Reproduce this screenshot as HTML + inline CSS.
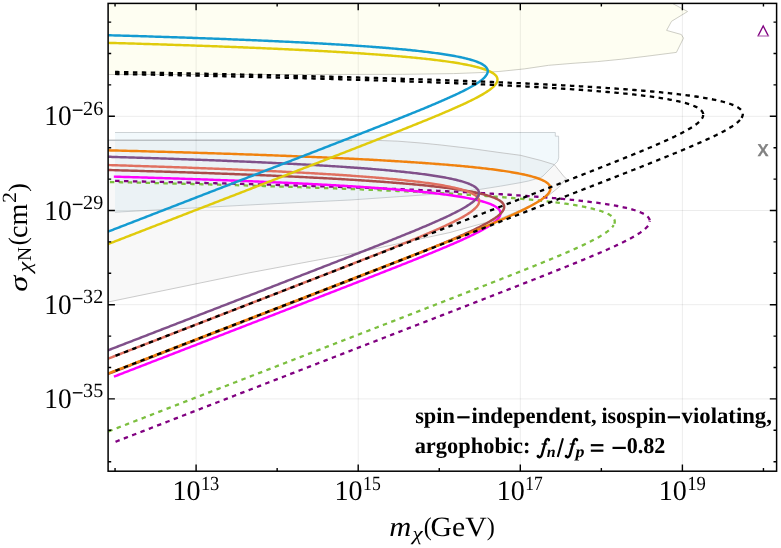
<!DOCTYPE html>
<html><head><meta charset="utf-8"><title>chart</title>
<style>html,body{margin:0;padding:0;background:#fff}svg{display:block}</style>
</head><body>
<svg width="781" height="548" viewBox="0 0 781 548" text-rendering="geometricPrecision" style="will-change:transform">
<rect width="781" height="548" fill="#fff"/>
<defs><clipPath id="c"><rect x="108.10" y="3.40" width="668.50" height="467.80"/></clipPath></defs>
<g clip-path="url(#c)">
<path d="M108.1,3.4 L672.3,3.4 L687.6,11.5 L671.5,21.3 L666.6,30.4 L681.3,34.5 L683.5,38.1 L676.4,52.4 L646.0,56.3 L621.7,59.2 L597.3,61.6 L573.0,63.3 L548.7,65.3 L524.3,68.9 L500.0,71.4 L480.0,72.6 L453.6,73.6 L402.4,74.3 L300.0,74.5 L108.1,74.5 Z" fill="#fefef2" stroke="#c2c2b8" stroke-width="0.8"/>
<path d="M115.0,132.5 L555.3,132.5 L555.3,136.2 L558.6,136.2 L558.7,157.9 L557.5,161.5 L554.3,164.6 L543.0,176.0 L540.7,177.6 L528.4,181.0 L520.7,182.6 L500.7,186.1 L479.2,189.5 L430.0,194.5 L350.0,200.0 L260.0,204.4 L115.0,212.2 Z" fill="#f2f9fc"/>
<path d="M115.00,132.50 L555.30,132.50 L555.30,136.20 L558.60,136.20 L558.70,157.90 L557.50,161.50 L554.30,164.60 L543.00,176.00 L540.70,177.60 L528.40,181.00 L520.70,182.60 L500.70,186.10 L479.20,189.50 L430.00,194.50 L350.00,200.00 L260.00,204.40 L115.00,212.20" fill="none" stroke="#c2c8cb" stroke-width="0.8"/>
<path d="M108.1,140.2 L352.0,140.2 L375.0,140.3 L398.0,141.2 L421.0,143.0 L440.0,144.9 L470.0,148.4 L500.0,152.6 L520.5,155.3 L541.0,160.5 L554.3,164.6 L563.5,176.0 L566.0,178.5 L558.4,187.6 L546.8,196.9 L520.7,210.0 L500.7,218.4 L450.0,232.5 L357.6,252.5 L250.0,272.7 L108.1,302.0 Z" fill="rgba(100,100,100,0.045)" stroke="#b4b4b4" stroke-width="0.7"/>
<path d="M108.10,140.20 L352.00,140.20" fill="none" stroke="#b2b8bc" stroke-width="1.1"/>
<path d="M196.10,3.40 V471.20 M358.20,3.40 V471.20 M520.30,3.40 V471.20 M682.40,3.40 V471.20 M108.10,116.30 H776.60 M108.10,210.50 H776.60 M108.10,304.70 H776.60 M108.10,398.90 H776.60" stroke="rgba(0,0,0,0.075)" stroke-width="1" fill="none"/>
<path d="M108.10,181.96 L109.95,182.00 L111.80,182.04 L113.65,182.08 L115.48,182.12 L117.31,182.17 L119.14,182.21 L120.96,182.25 L122.77,182.29 L124.58,182.33 L126.38,182.37 L128.18,182.42 L129.97,182.46 L131.75,182.50 L133.53,182.54 L135.30,182.58 L137.07,182.62 L138.83,182.66 L140.59,182.71 L142.34,182.75 L144.08,182.79 L145.82,182.83 L147.55,182.87 L149.28,182.91 L151.00,182.96 L152.72,183.00 L154.43,183.04 L156.13,183.08 L157.83,183.12 L159.53,183.16 L161.22,183.21 L162.90,183.25 L164.58,183.29 L166.25,183.33 L167.92,183.37 L169.58,183.41 L171.23,183.45 L172.88,183.50 L174.53,183.54 L176.17,183.58 L177.80,183.62 L179.43,183.66 L181.06,183.70 L182.68,183.75 L184.29,183.79 L185.90,183.83 L187.50,183.87 L189.10,183.91 L190.69,183.95 L192.28,184.00 L193.86,184.04 L195.44,184.08 L197.01,184.12 L198.58,184.16 L200.14,184.20 L201.70,184.25 L203.25,184.29 L204.79,184.33 L206.34,184.37 L207.87,184.41 L209.40,184.45 L210.93,184.49 L212.45,184.54 L213.97,184.58 L215.48,184.62 L216.99,184.66 L218.49,184.70 L221.48,184.79 L224.45,184.87 L227.40,184.95 L230.33,185.04 L233.24,185.12 L236.13,185.20 L239.01,185.29 L241.86,185.37 L244.70,185.45 L247.52,185.53 L250.32,185.62 L253.10,185.70 L255.86,185.78 L258.60,185.87 L261.33,185.95 L264.04,186.03 L266.73,186.12 L269.40,186.20 L272.06,186.28 L274.70,186.37 L277.32,186.45 L279.92,186.53 L282.51,186.62 L285.08,186.70 L287.63,186.78 L290.17,186.87 L292.69,186.95 L295.19,187.03 L297.68,187.12 L300.15,187.20 L302.60,187.28 L305.04,187.37 L307.46,187.45 L309.86,187.53 L312.25,187.61 L314.62,187.70 L316.98,187.78 L319.32,187.86 L321.65,187.95 L323.96,188.03 L326.25,188.11 L328.53,188.20 L330.80,188.28 L333.05,188.36 L335.28,188.45 L337.50,188.53 L339.71,188.61 L341.90,188.70 L344.07,188.78 L346.24,188.86 L348.38,188.95 L350.51,189.03 L352.63,189.11 L354.74,189.20 L356.83,189.28 L358.90,189.36 L360.96,189.44 L363.01,189.53 L365.05,189.61 L367.07,189.69 L369.07,189.78 L371.07,189.86 L373.05,189.94 L375.01,190.03 L376.97,190.11 L378.91,190.19 L380.83,190.28 L382.75,190.36 L384.65,190.44 L386.54,190.53 L388.41,190.61 L390.28,190.69 L392.13,190.78 L393.96,190.86 L395.79,190.94 L397.60,191.03 L399.40,191.11 L401.19,191.19 L402.97,191.28 L404.73,191.36 L406.48,191.44 L408.22,191.52 L409.95,191.61 L411.67,191.69 L413.37,191.77 L415.06,191.86 L416.74,191.94 L418.41,192.02 L420.07,192.11 L421.72,192.19 L423.35,192.27 L424.98,192.36 L426.59,192.44 L428.19,192.52 L429.78,192.61 L431.36,192.69 L432.93,192.77 L434.49,192.86 L436.04,192.94 L437.57,193.02 L439.10,193.11 L440.62,193.19 L442.12,193.27 L444.36,193.40 L446.57,193.52 L448.76,193.65 L450.93,193.77 L453.08,193.90 L455.20,194.02 L457.30,194.15 L459.38,194.27 L461.44,194.40 L463.47,194.52 L465.49,194.64 L467.48,194.77 L469.45,194.89 L471.40,195.02 L473.33,195.14 L475.24,195.27 L477.13,195.39 L479.00,195.52 L480.85,195.64 L482.68,195.77 L484.48,195.89 L486.27,196.02 L488.05,196.14 L489.80,196.27 L491.53,196.39 L493.24,196.52 L494.94,196.64 L496.62,196.77 L498.28,196.89 L499.92,197.02 L501.54,197.14 L503.15,197.27 L504.73,197.39 L506.30,197.51 L507.86,197.64 L509.39,197.76 L510.91,197.89 L512.41,198.01 L514.39,198.18 L516.34,198.35 L518.26,198.51 L520.15,198.68 L522.01,198.85 L523.85,199.01 L525.66,199.18 L527.44,199.35 L529.19,199.51 L530.92,199.68 L532.62,199.84 L534.29,200.01 L535.94,200.18 L537.57,200.34 L539.17,200.51 L540.74,200.68 L542.29,200.84 L543.82,201.01 L545.32,201.18 L547.17,201.38 L548.98,201.59 L550.75,201.80 L552.49,202.01 L554.19,202.22 L555.86,202.42 L557.50,202.63 L559.10,202.84 L560.68,203.05 L562.22,203.26 L563.73,203.46 L565.49,203.71 L567.22,203.96 L568.90,204.21 L570.54,204.46 L572.14,204.71 L573.70,204.96 L575.22,205.21 L576.70,205.46 L578.38,205.75 L580.00,206.04 L581.58,206.33 L583.10,206.62 L584.58,206.92 L586.21,207.25 L587.79,207.58 L589.30,207.91 L590.93,208.29 L592.50,208.66 L593.99,209.04 L595.57,209.45 L597.08,209.87 L598.64,210.33 L600.12,210.78 L601.62,211.28 L603.14,211.82 L604.55,212.36 L605.94,212.95 L607.39,213.61 L608.76,214.32 L610.10,215.11 L611.36,215.98 L612.53,216.98 L613.54,218.11 L614.31,219.39 L614.75,220.85 L614.75,222.35 L614.36,223.80 L613.69,225.18" fill="none" stroke="#7cbf3f" stroke-width="2.3" stroke-dasharray="4.45 4.473" stroke-dashoffset="7.12"/>
<path d="M613.69,225.18 L612.84,226.42 L611.85,227.59 L610.79,228.67 L609.64,229.71 L608.44,230.71 L607.25,231.62 L605.98,232.54 L604.71,233.41 L603.43,234.25 L602.11,235.08 L600.81,235.87 L599.46,236.66 L598.16,237.41 L596.81,238.16 L595.44,238.90 L594.11,239.61 L592.76,240.32 L591.39,241.03 L589.99,241.73 L588.57,242.44 L587.22,243.11 L585.85,243.77 L584.46,244.44 L583.05,245.10 L581.64,245.77 L580.20,246.43 L578.76,247.10 L577.39,247.72 L576.01,248.35 L574.62,248.97 L573.22,249.59 L571.81,250.22 L570.40,250.84 L568.97,251.47 L567.54,252.09 L566.09,252.71 L564.64,253.34 L563.19,253.96 L561.72,254.59 L560.25,255.21 L558.78,255.83 L557.39,256.42 L556.00,257.00 L554.61,257.58 L553.21,258.16 L551.81,258.75 L550.40,259.33 L548.99,259.91 L547.58,260.49 L546.16,261.08 L544.74,261.66 L543.31,262.24 L541.88,262.82 L540.45,263.40 L539.02,263.99 L537.58,264.57 L536.14,265.15 L534.70,265.73 L533.25,266.32 L531.80,266.90 L530.35,267.48 L528.90,268.06 L527.45,268.65 L525.99,269.23 L524.53,269.81 L523.07,270.39 L521.61,270.98 L520.15,271.56 L518.68,272.14 L517.21,272.72 L515.74,273.30 L514.27,273.89 L512.80,274.47 L511.33,275.05 L509.86,275.63 L508.38,276.22 L506.91,276.80 L505.43,277.38 L503.95,277.96 L502.47,278.55 L500.99,279.13 L499.51,279.71 L498.02,280.29 L496.54,280.88 L495.06,281.46 L493.57,282.04 L492.09,282.62 L490.60,283.20 L489.11,283.79 L487.63,284.37 L486.14,284.95 L484.65,285.53 L483.16,286.12 L481.67,286.70 L480.18,287.28 L478.69,287.86 L477.19,288.45 L475.70,289.03 L474.21,289.61 L472.72,290.19 L471.22,290.78 L469.73,291.36 L468.23,291.94 L466.74,292.52 L465.24,293.10 L463.75,293.69 L462.25,294.27 L460.76,294.85 L459.26,295.43 L457.76,296.02 L456.27,296.60 L454.77,297.18 L453.27,297.76 L451.77,298.35 L450.28,298.93 L448.78,299.51 L447.28,300.09 L445.78,300.68 L444.28,301.26 L442.78,301.84 L441.29,302.42 L439.79,303.01 L438.29,303.59 L436.79,304.17 L435.29,304.75 L433.79,305.33 L432.29,305.92 L430.79,306.50 L429.29,307.08 L427.79,307.66 L426.29,308.25 L424.79,308.83 L423.28,309.41 L421.78,309.99 L420.28,310.58 L418.78,311.16 L417.28,311.74 L415.78,312.32 L414.28,312.91 L412.78,313.49 L411.28,314.07 L409.77,314.65 L408.27,315.23 L406.77,315.82 L405.27,316.40 L403.77,316.98 L402.27,317.56 L400.76,318.15 L399.26,318.73 L397.76,319.31 L396.26,319.89 L394.76,320.48 L393.25,321.06 L391.75,321.64 L390.25,322.22 L388.75,322.81 L387.24,323.39 L385.74,323.97 L384.24,324.55 L382.74,325.13 L381.23,325.72 L379.73,326.30 L378.23,326.88 L376.73,327.46 L375.22,328.05 L373.72,328.63 L372.22,329.21 L370.72,329.79 L369.21,330.38 L367.71,330.96 L366.21,331.54 L364.71,332.12 L363.20,332.71 L361.70,333.29 L360.20,333.87 L358.69,334.45 L357.19,335.03 L355.69,335.62 L354.19,336.20 L352.68,336.78 L351.18,337.36 L349.68,337.95 L348.17,338.53 L346.67,339.11 L345.17,339.69 L343.67,340.28 L342.16,340.86 L340.66,341.44 L339.16,342.02 L337.65,342.61 L336.15,343.19 L334.65,343.77 L333.15,344.35 L331.64,344.93 L330.14,345.52 L328.64,346.10 L327.13,346.68 L325.63,347.26 L324.13,347.85 L322.62,348.43 L321.12,349.01 L319.62,349.59 L318.11,350.18 L316.61,350.76 L315.11,351.34 L313.61,351.92 L312.10,352.51 L310.60,353.09 L309.10,353.67 L307.59,354.25 L306.09,354.84 L304.59,355.42 L303.08,356.00 L301.58,356.58 L300.08,357.16 L298.57,357.75 L297.07,358.33 L295.57,358.91 L294.06,359.49 L292.56,360.08 L291.06,360.66 L289.56,361.24 L288.05,361.82 L286.55,362.41 L285.05,362.99 L283.54,363.57 L282.04,364.15 L280.54,364.74 L279.03,365.32 L277.53,365.90 L276.03,366.48 L274.52,367.06 L273.02,367.65 L271.52,368.23 L270.01,368.81 L268.51,369.39 L267.01,369.98 L265.51,370.56 L264.00,371.14 L262.50,371.72 L261.00,372.31 L259.49,372.89 L257.99,373.47 L256.49,374.05 L254.98,374.64 L253.48,375.22 L251.98,375.80 L250.47,376.38 L248.97,376.96 L247.47,377.55 L245.96,378.13 L244.46,378.71 L242.96,379.29 L241.45,379.88 L239.95,380.46 L238.45,381.04 L236.94,381.62 L235.44,382.21 L233.94,382.79 L232.44,383.37 L230.93,383.95 L229.43,384.54 L227.93,385.12 L226.42,385.70 L224.92,386.28 L223.42,386.86 L221.91,387.45 L220.41,388.03 L218.91,388.61 L217.40,389.19 L215.90,389.78 L214.40,390.36 L212.89,390.94 L211.39,391.52 L209.89,392.11 L208.38,392.69 L206.88,393.27 L205.38,393.85 L203.87,394.44 L202.37,395.02 L200.87,395.60 L199.37,396.18 L197.86,396.76 L196.36,397.35 L194.86,397.93 L193.35,398.51 L191.85,399.09 L190.35,399.68 L188.84,400.26 L187.34,400.84 L185.84,401.42 L184.33,402.01 L182.83,402.59 L181.33,403.17 L179.82,403.75 L178.32,404.34 L176.82,404.92 L175.31,405.50 L173.81,406.08 L172.31,406.67 L170.80,407.25 L169.30,407.83 L167.80,408.41 L166.29,408.99 L164.79,409.58 L163.29,410.16 L161.79,410.74 L160.28,411.32 L158.78,411.91 L157.28,412.49 L155.77,413.07 L154.27,413.65 L152.77,414.24 L151.26,414.82 L149.76,415.40 L148.26,415.98 L146.75,416.57 L145.25,417.15 L143.75,417.73 L142.24,418.31 L140.74,418.89 L139.24,419.48 L137.73,420.06 L136.23,420.64 L134.73,421.22 L133.22,421.81 L131.72,422.39 L130.22,422.97 L128.72,423.55 L127.21,424.14 L125.71,424.72 L124.21,425.30 L122.70,425.88 L121.20,426.47 L119.70,427.05 L118.19,427.63 L116.69,428.21 L115.19,428.79 L113.68,429.38 L112.18,429.96 L110.68,430.54 L109.17,431.12 L108.10,431.54" fill="none" stroke="#7cbf3f" stroke-width="2.3" stroke-dasharray="4.45 4.473" stroke-dashoffset="1.82"/>
<path d="M115.05,180.89 L117.08,180.94 L119.11,180.98 L121.13,181.02 L123.15,181.07 L125.15,181.11 L127.15,181.16 L129.15,181.20 L131.13,181.24 L133.11,181.29 L135.09,181.33 L137.05,181.37 L139.02,181.42 L140.97,181.46 L142.92,181.50 L144.86,181.55 L146.79,181.59 L148.72,181.63 L150.64,181.68 L152.55,181.72 L154.46,181.76 L156.36,181.81 L158.26,181.85 L160.15,181.89 L162.03,181.94 L163.91,181.98 L165.78,182.03 L167.64,182.07 L169.50,182.11 L171.35,182.16 L173.19,182.20 L175.03,182.24 L176.86,182.29 L178.69,182.33 L180.51,182.37 L182.32,182.42 L184.13,182.46 L185.93,182.50 L187.73,182.55 L189.51,182.59 L191.30,182.63 L193.07,182.68 L194.85,182.72 L196.61,182.77 L198.37,182.81 L200.12,182.85 L201.87,182.90 L203.61,182.94 L205.35,182.98 L207.08,183.03 L208.80,183.07 L210.52,183.11 L212.23,183.16 L213.94,183.20 L215.64,183.24 L217.33,183.29 L219.02,183.33 L220.70,183.37 L222.38,183.42 L224.05,183.46 L225.72,183.50 L227.38,183.55 L229.03,183.59 L230.68,183.64 L232.33,183.68 L233.96,183.72 L235.60,183.77 L237.22,183.81 L238.84,183.85 L240.46,183.90 L242.07,183.94 L243.67,183.98 L245.27,184.03 L246.87,184.07 L248.45,184.11 L250.04,184.16 L251.62,184.20 L253.19,184.24 L254.75,184.29 L256.32,184.33 L257.87,184.38 L259.42,184.42 L260.97,184.46 L262.51,184.51 L264.04,184.55 L265.57,184.59 L267.10,184.64 L268.62,184.68 L270.13,184.72 L271.64,184.77 L273.14,184.81 L276.13,184.90 L279.11,184.98 L282.06,185.07 L284.99,185.16 L287.90,185.25 L290.79,185.33 L293.66,185.42 L296.51,185.51 L299.34,185.59 L302.16,185.68 L304.95,185.77 L307.72,185.85 L310.48,185.94 L313.21,186.03 L315.93,186.12 L318.63,186.20 L321.31,186.29 L323.97,186.38 L326.61,186.46 L329.24,186.55 L331.84,186.64 L334.43,186.72 L337.00,186.81 L339.55,186.90 L342.09,186.99 L344.61,187.07 L347.11,187.16 L349.59,187.25 L352.06,187.33 L354.50,187.42 L356.94,187.51 L359.35,187.59 L361.75,187.68 L364.13,187.77 L366.49,187.86 L368.84,187.94 L371.17,188.03 L373.49,188.12 L375.79,188.20 L378.07,188.29 L380.34,188.38 L382.59,188.47 L384.83,188.55 L387.05,188.64 L389.25,188.73 L391.44,188.81 L393.61,188.90 L395.77,188.99 L397.91,189.07 L400.04,189.16 L402.16,189.25 L404.25,189.34 L406.34,189.42 L408.41,189.51 L410.46,189.60 L412.50,189.68 L414.53,189.77 L416.54,189.86 L418.53,189.94 L420.52,190.03 L422.49,190.12 L424.44,190.21 L426.38,190.29 L428.31,190.38 L430.22,190.47 L432.12,190.55 L434.01,190.64 L435.88,190.73 L437.74,190.81 L439.59,190.90 L441.42,190.99 L443.24,191.08 L445.05,191.16 L446.84,191.25 L448.62,191.34 L450.39,191.42 L452.15,191.51 L453.89,191.60 L455.62,191.68 L457.34,191.77 L459.04,191.86 L460.74,191.95 L462.42,192.03 L464.09,192.12 L465.75,192.21 L467.39,192.29 L469.02,192.38 L470.65,192.47 L472.26,192.56 L473.85,192.64 L475.44,192.73 L477.02,192.82 L478.58,192.90 L480.13,192.99 L481.67,193.08 L483.20,193.16 L484.72,193.25 L486.23,193.34 L488.47,193.47 L490.68,193.60 L492.88,193.73 L495.04,193.86 L497.19,193.99 L499.31,194.12 L501.40,194.25 L503.48,194.38 L505.53,194.51 L507.56,194.64 L509.56,194.77 L511.54,194.90 L513.50,195.04 L515.44,195.17 L517.36,195.30 L519.26,195.43 L521.13,195.56 L522.98,195.69 L524.82,195.82 L526.63,195.95 L528.42,196.08 L530.19,196.21 L531.94,196.34 L533.67,196.47 L535.39,196.60 L537.08,196.73 L538.75,196.86 L540.40,196.99 L542.04,197.12 L543.65,197.25 L545.25,197.38 L546.83,197.52 L548.39,197.65 L549.93,197.78 L551.46,197.91 L552.96,198.04 L554.95,198.21 L556.90,198.39 L558.82,198.56 L560.71,198.73 L562.57,198.91 L564.40,199.08 L566.20,199.26 L567.98,199.43 L569.72,199.60 L571.44,199.78 L573.13,199.95 L574.79,200.13 L576.43,200.30 L578.04,200.47 L579.62,200.65 L581.18,200.82 L582.72,201.00 L584.22,201.17 L586.07,201.39 L587.88,201.61 L589.66,201.82 L591.39,202.04 L593.10,202.26 L594.76,202.48 L596.39,202.69 L597.98,202.91 L599.55,203.13 L601.07,203.35 L602.57,203.56 L604.32,203.82 L606.02,204.09 L607.68,204.35 L609.29,204.61 L610.87,204.87 L612.39,205.13 L613.88,205.39 L615.56,205.70 L617.19,206.00 L618.77,206.30 L620.29,206.61 L621.76,206.91 L623.38,207.26 L624.94,207.61 L626.44,207.96 L628.05,208.35 L629.59,208.74 L631.05,209.13 L632.60,209.57 L634.06,210.00 L635.57,210.48 L637.11,211.00 L638.55,211.53 L639.99,212.09 L641.40,212.70 L642.77,213.35 L644.16,214.09 L645.50,214.92 L646.74,215.83 L647.88,216.88 L648.82,218.05 L649.50,219.40 L649.79,220.88" fill="none" stroke="#800080" stroke-width="2.3" stroke-dasharray="4.45 4.473" stroke-dashoffset="0.00"/>
<path d="M649.79,220.88 L649.66,222.40 L649.16,223.84 L648.40,225.19 L647.49,226.41 L646.48,227.54 L645.36,228.63 L644.22,229.63 L643.03,230.58 L641.81,231.50 L640.58,232.37 L639.29,233.24 L638.01,234.06 L636.68,234.89 L635.38,235.67 L634.03,236.46 L632.65,237.24 L631.31,237.98 L629.94,238.72 L628.55,239.46 L627.21,240.16 L625.85,240.85 L624.46,241.55 L623.06,242.24 L621.63,242.94 L620.28,243.59 L618.91,244.25 L617.53,244.90 L616.14,245.55 L614.73,246.20 L613.30,246.86 L611.87,247.51 L610.42,248.16 L608.96,248.81 L607.50,249.47 L606.12,250.08 L604.73,250.69 L603.33,251.29 L601.93,251.90 L600.52,252.51 L599.10,253.12 L597.67,253.73 L596.24,254.34 L594.80,254.95 L593.36,255.56 L591.91,256.17 L590.46,256.78 L589.00,257.39 L587.53,257.99 L586.07,258.60 L584.59,259.21 L583.11,259.82 L581.63,260.43 L580.15,261.04 L578.66,261.65 L577.16,262.26 L575.77,262.82 L574.38,263.39 L572.98,263.96 L571.59,264.52 L570.19,265.09 L568.78,265.65 L567.38,266.22 L565.97,266.78 L564.56,267.35 L563.15,267.92 L561.73,268.48 L560.32,269.05 L558.90,269.61 L557.48,270.18 L556.06,270.74 L554.64,271.31 L553.22,271.87 L551.79,272.44 L550.36,273.01 L548.94,273.57 L547.51,274.14 L546.08,274.70 L544.64,275.27 L543.21,275.83 L541.78,276.40 L540.34,276.97 L538.90,277.53 L537.47,278.10 L536.03,278.66 L534.59,279.23 L533.15,279.79 L531.71,280.36 L530.27,280.92 L528.83,281.49 L527.38,282.06 L525.94,282.62 L524.50,283.19 L523.05,283.75 L521.61,284.32 L520.16,284.88 L518.71,285.45 L517.27,286.02 L515.82,286.58 L514.37,287.15 L512.92,287.71 L511.47,288.28 L510.02,288.84 L508.57,289.41 L507.12,289.97 L505.67,290.54 L504.22,291.11 L502.77,291.67 L501.32,292.24 L499.86,292.80 L498.41,293.37 L496.96,293.93 L495.51,294.50 L494.05,295.07 L492.60,295.63 L491.14,296.20 L489.69,296.76 L488.24,297.33 L486.78,297.89 L485.33,298.46 L483.87,299.03 L482.42,299.59 L480.96,300.16 L479.50,300.72 L478.05,301.29 L476.59,301.85 L475.14,302.42 L473.68,302.98 L472.22,303.55 L470.77,304.12 L469.31,304.68 L467.85,305.25 L466.40,305.81 L464.94,306.38 L463.48,306.94 L462.02,307.51 L460.57,308.08 L459.11,308.64 L457.65,309.21 L456.19,309.77 L454.74,310.34 L453.28,310.90 L451.82,311.47 L450.36,312.03 L448.90,312.60 L447.45,313.17 L445.99,313.73 L444.53,314.30 L443.07,314.86 L441.61,315.43 L440.15,315.99 L438.69,316.56 L437.24,317.13 L435.78,317.69 L434.32,318.26 L432.86,318.82 L431.40,319.39 L429.94,319.95 L428.48,320.52 L427.02,321.08 L425.56,321.65 L424.11,322.22 L422.65,322.78 L421.19,323.35 L419.73,323.91 L418.27,324.48 L416.81,325.04 L415.35,325.61 L413.89,326.18 L412.43,326.74 L410.97,327.31 L409.51,327.87 L408.05,328.44 L406.59,329.00 L405.13,329.57 L403.67,330.14 L402.21,330.70 L400.75,331.27 L399.30,331.83 L397.84,332.40 L396.38,332.96 L394.92,333.53 L393.46,334.09 L392.00,334.66 L390.54,335.23 L389.08,335.79 L387.62,336.36 L386.16,336.92 L384.70,337.49 L383.24,338.05 L381.78,338.62 L380.32,339.19 L378.86,339.75 L377.40,340.32 L375.94,340.88 L374.48,341.45 L373.02,342.01 L371.56,342.58 L370.10,343.14 L368.64,343.71 L367.18,344.28 L365.72,344.84 L364.26,345.41 L362.80,345.97 L361.34,346.54 L359.88,347.10 L358.42,347.67 L356.96,348.24 L355.50,348.80 L354.04,349.37 L352.58,349.93 L351.12,350.50 L349.66,351.06 L348.20,351.63 L346.74,352.19 L345.28,352.76 L343.82,353.33 L342.36,353.89 L340.90,354.46 L339.44,355.02 L337.98,355.59 L336.52,356.15 L335.06,356.72 L333.60,357.29 L332.14,357.85 L330.68,358.42 L329.22,358.98 L327.76,359.55 L326.30,360.11 L324.84,360.68 L323.38,361.25 L321.92,361.81 L320.46,362.38 L319.00,362.94 L317.54,363.51 L316.08,364.07 L314.62,364.64 L313.16,365.20 L311.70,365.77 L310.24,366.34 L308.78,366.90 L307.32,367.47 L305.86,368.03 L304.40,368.60 L302.94,369.16 L301.48,369.73 L300.02,370.30 L298.56,370.86 L297.10,371.43 L295.64,371.99 L294.18,372.56 L292.72,373.12 L291.26,373.69 L289.80,374.25 L288.34,374.82 L286.88,375.39 L285.42,375.95 L283.96,376.52 L282.50,377.08 L281.04,377.65 L279.58,378.21 L278.12,378.78 L276.66,379.35 L275.20,379.91 L273.74,380.48 L272.28,381.04 L270.82,381.61 L269.36,382.17 L267.90,382.74 L266.44,383.30 L264.98,383.87 L263.52,384.44 L262.06,385.00 L260.60,385.57 L259.14,386.13 L257.68,386.70 L256.22,387.26 L254.76,387.83 L253.30,388.40 L251.84,388.96 L250.38,389.53 L248.92,390.09 L247.46,390.66 L246.00,391.22 L244.54,391.79 L243.08,392.36 L241.62,392.92 L240.16,393.49 L238.70,394.05 L237.24,394.62 L235.78,395.18 L234.32,395.75 L232.86,396.31 L231.40,396.88 L229.94,397.45 L228.48,398.01 L227.02,398.58 L225.56,399.14 L224.10,399.71 L222.64,400.27 L221.18,400.84 L219.72,401.41 L218.26,401.97 L216.80,402.54 L215.34,403.10 L213.88,403.67 L212.42,404.23 L210.96,404.80 L209.50,405.36 L208.04,405.93 L206.58,406.50 L205.12,407.06 L203.66,407.63 L202.20,408.19 L200.74,408.76 L199.28,409.32 L197.82,409.89 L196.36,410.46 L194.90,411.02 L193.44,411.59 L191.98,412.15 L190.52,412.72 L189.06,413.28 L187.60,413.85 L186.14,414.41 L184.68,414.98 L183.22,415.55 L181.76,416.11 L180.30,416.68 L178.84,417.24 L177.38,417.81 L175.92,418.37 L174.46,418.94 L173.00,419.51 L171.54,420.07 L170.08,420.64 L168.62,421.20 L167.16,421.77 L165.70,422.33 L164.24,422.90 L162.78,423.47 L161.32,424.03 L159.86,424.60 L158.40,425.16 L156.94,425.73 L155.48,426.29 L154.02,426.86 L152.56,427.42 L151.10,427.99 L149.64,428.56 L148.18,429.12 L146.72,429.69 L145.26,430.25 L143.80,430.82 L142.34,431.38 L140.88,431.95 L139.42,432.52 L137.96,433.08 L136.50,433.65 L135.04,434.21 L133.58,434.78 L132.12,435.34 L130.66,435.91 L129.20,436.47 L127.74,437.04 L126.28,437.61 L124.82,438.17 L123.36,438.74 L121.90,439.30 L120.44,439.87 L118.98,440.43 L117.52,441.00 L116.06,441.57 L115.05,441.96" fill="none" stroke="#800080" stroke-width="2.3" stroke-dasharray="4.45 4.473" stroke-dashoffset="3.61"/>
<path d="M115.05,176.66 L117.38,176.72 L119.71,176.79 L122.02,176.86 L124.32,176.92 L126.60,176.99 L128.88,177.06 L131.14,177.12 L133.39,177.19 L135.63,177.26 L137.86,177.32 L140.07,177.39 L142.28,177.46 L144.47,177.52 L146.65,177.59 L148.82,177.66 L150.98,177.72 L153.12,177.79 L155.26,177.86 L157.38,177.92 L159.49,177.99 L161.60,178.05 L163.69,178.12 L165.77,178.19 L167.84,178.25 L169.89,178.32 L171.94,178.39 L173.98,178.45 L176.00,178.52 L178.02,178.59 L180.02,178.65 L182.02,178.72 L184.00,178.79 L185.97,178.85 L187.93,178.92 L189.88,178.99 L191.83,179.05 L193.76,179.12 L195.68,179.19 L197.59,179.25 L199.49,179.32 L201.38,179.39 L203.26,179.45 L205.13,179.52 L206.99,179.58 L208.84,179.65 L210.68,179.72 L212.51,179.78 L214.34,179.85 L216.15,179.92 L217.95,179.98 L219.74,180.05 L221.52,180.12 L223.30,180.18 L225.06,180.25 L226.82,180.32 L228.56,180.38 L230.30,180.45 L232.02,180.52 L233.74,180.58 L235.45,180.65 L237.15,180.72 L238.84,180.78 L240.52,180.85 L242.19,180.92 L243.85,180.98 L245.50,181.05 L247.15,181.11 L248.79,181.18 L250.41,181.25 L252.03,181.31 L253.64,181.38 L255.24,181.45 L256.83,181.51 L258.42,181.58 L259.99,181.65 L261.56,181.71 L263.12,181.78 L264.67,181.85 L266.21,181.91 L267.74,181.98 L269.27,182.05 L270.79,182.11 L272.29,182.18 L273.79,182.25 L276.03,182.35 L278.25,182.45 L280.45,182.54 L282.63,182.64 L284.79,182.74 L286.94,182.84 L289.06,182.94 L291.17,183.04 L293.27,183.14 L295.34,183.24 L297.40,183.34 L299.45,183.44 L301.47,183.54 L303.48,183.64 L305.47,183.74 L307.45,183.84 L309.41,183.94 L311.35,184.04 L313.28,184.14 L315.19,184.24 L317.09,184.34 L318.97,184.44 L320.83,184.54 L322.68,184.64 L324.52,184.74 L326.33,184.84 L328.14,184.94 L329.93,185.04 L331.70,185.14 L333.46,185.24 L335.20,185.34 L336.93,185.44 L338.65,185.54 L340.35,185.64 L342.03,185.74 L343.70,185.84 L345.36,185.94 L347.01,186.04 L348.64,186.14 L350.25,186.24 L351.86,186.34 L353.44,186.44 L355.02,186.54 L356.58,186.64 L358.13,186.74 L359.67,186.84 L361.19,186.94 L362.70,187.03 L364.20,187.13 L366.17,187.27 L368.13,187.40 L370.06,187.53 L371.97,187.67 L373.85,187.80 L375.72,187.93 L377.56,188.07 L379.39,188.20 L381.19,188.33 L382.97,188.47 L384.73,188.60 L386.47,188.73 L388.19,188.86 L389.89,189.00 L391.57,189.13 L393.23,189.26 L394.87,189.40 L396.49,189.53 L398.10,189.66 L399.68,189.80 L401.24,189.93 L402.79,190.06 L404.32,190.19 L405.83,190.33 L407.69,190.49 L409.52,190.66 L411.33,190.83 L413.11,190.99 L414.86,191.16 L416.59,191.33 L418.29,191.49 L419.97,191.66 L421.61,191.82 L423.24,191.99 L424.84,192.16 L426.41,192.32 L427.96,192.49 L429.49,192.66 L430.99,192.82 L432.76,193.02 L434.50,193.22 L436.21,193.42 L437.88,193.62 L439.52,193.82 L441.13,194.02 L442.71,194.22 L444.26,194.42 L445.78,194.62 L447.27,194.82 L448.97,195.05 L450.64,195.28 L452.26,195.52 L453.85,195.75 L455.40,195.98 L456.91,196.21 L458.59,196.48 L460.23,196.75 L461.83,197.01 L463.38,197.28 L464.89,197.54 L466.53,197.84 L468.12,198.14 L469.66,198.44 L471.15,198.74 L472.75,199.07 L474.29,199.41 L475.78,199.74 L477.34,200.11 L478.84,200.47 L480.40,200.87 L481.89,201.27 L483.42,201.70 L484.86,202.13 L486.33,202.60 L487.80,203.10 L489.26,203.63 L490.70,204.20 L492.09,204.80 L493.49,205.46 L494.86,206.19 L496.15,206.99 L497.39,207.89 L498.52,208.92 L499.47,210.08 L500.17,211.41 L500.49,212.88 L500.38,214.37 L499.92,215.80 L499.20,217.13 L498.31,218.37 L497.31,219.50 L496.24,220.56 L495.11,221.56 L493.93,222.52 L492.70,223.45 L491.45,224.35 L490.17,225.22 L488.89,226.05 L487.62,226.85 L486.29,227.64 L484.99,228.41 L483.65,229.17 L482.33,229.91 L480.98,230.64 L479.61,231.37 L478.27,232.07 L476.91,232.77 L475.53,233.47 L474.12,234.16 L472.77,234.83 L471.39,235.49 L470.01,236.16 L468.60,236.82 L467.18,237.49 L465.82,238.12 L464.45,238.75 L463.06,239.39 L461.66,240.02 L460.26,240.65 L458.84,241.28 L457.41,241.91 L455.97,242.55 L454.53,243.18 L453.15,243.78 L451.77,244.37 L450.38,244.97 L448.98,245.57 L447.58,246.17 L446.17,246.77 L444.75,247.37 L443.33,247.97 L441.90,248.57 L440.47,249.16 L439.03,249.76 L437.59,250.36 L436.15,250.96 L434.70,251.56 L433.24,252.16 L431.78,252.76 L430.32,253.35 L428.86,253.95 L427.39,254.55 L426.00,255.12 L424.60,255.68 L423.21,256.25 L421.81,256.81 L420.41,257.38 L419.01,257.94 L417.60,258.51 L416.19,259.08 L414.78,259.64 L413.37,260.21 L411.96,260.77 L410.54,261.34 L409.12,261.90 L407.71,262.47 L406.28,263.03 L404.86,263.60 L403.44,264.16 L402.01,264.73 L400.59,265.29 L399.16,265.86 L397.73,266.43 L396.30,266.99 L394.87,267.56 L393.43,268.12 L392.00,268.69 L390.57,269.25 L389.13,269.82 L387.69,270.38 L386.25,270.95 L384.82,271.51 L383.38,272.08 L381.94,272.65 L380.49,273.21 L379.05,273.78 L377.61,274.34 L376.17,274.91 L374.72,275.47 L373.28,276.04 L371.83,276.60 L370.39,277.17 L368.94,277.73 L367.49,278.30 L366.05,278.86 L364.60,279.43 L363.15,280.00 L361.70,280.56 L360.25,281.13 L358.80,281.69 L357.35,282.26 L355.90,282.82 L354.45,283.39 L353.00,283.95 L351.55,284.52 L350.10,285.08 L348.65,285.65 L347.19,286.22 L345.74,286.78 L344.29,287.35 L342.84,287.91 L341.38,288.48 L339.93,289.04 L338.47,289.61 L337.02,290.17 L335.57,290.74 L334.11,291.30 L332.66,291.87 L331.20,292.43 L329.75,293.00 L328.29,293.57 L326.84,294.13 L325.38,294.70 L323.92,295.26 L322.47,295.83 L321.01,296.39 L319.56,296.96 L318.10,297.52 L316.64,298.09 L315.19,298.65 L313.73,299.22 L312.27,299.79 L310.82,300.35 L309.36,300.92 L307.90,301.48 L306.44,302.05 L304.99,302.61 L303.53,303.18 L302.07,303.74 L300.61,304.31 L299.16,304.87 L297.70,305.44 L296.24,306.00 L294.78,306.57 L293.33,307.14 L291.87,307.70 L290.41,308.27 L288.95,308.83 L287.49,309.40 L286.03,309.96 L284.58,310.53 L283.12,311.09 L281.66,311.66 L280.20,312.22 L278.74,312.79 L277.28,313.36 L275.83,313.92 L274.37,314.49 L272.91,315.05 L271.45,315.62 L269.99,316.18 L268.53,316.75 L267.07,317.31 L265.62,317.88 L264.16,318.44 L262.70,319.01 L261.24,319.57 L259.78,320.14 L258.32,320.71 L256.86,321.27 L255.40,321.84 L253.94,322.40 L252.49,322.97 L251.03,323.53 L249.57,324.10 L248.11,324.66 L246.65,325.23 L245.19,325.79 L243.73,326.36 L242.27,326.93 L240.81,327.49 L239.35,328.06 L237.89,328.62 L236.44,329.19 L234.98,329.75 L233.52,330.32 L232.06,330.88 L230.60,331.45 L229.14,332.01 L227.68,332.58 L226.22,333.14 L224.76,333.71 L223.30,334.28 L221.84,334.84 L220.38,335.41 L218.92,335.97 L217.47,336.54 L216.01,337.10 L214.55,337.67 L213.09,338.23 L211.63,338.80 L210.17,339.36 L208.71,339.93 L207.25,340.50 L205.79,341.06 L204.33,341.63 L202.87,342.19 L201.41,342.76 L199.95,343.32 L198.49,343.89 L197.03,344.45 L195.58,345.02 L194.12,345.58 L192.66,346.15 L191.20,346.71 L189.74,347.28 L188.28,347.85 L186.82,348.41 L185.36,348.98 L183.90,349.54 L182.44,350.11 L180.98,350.67 L179.52,351.24 L178.06,351.80 L176.60,352.37 L175.14,352.93 L173.68,353.50 L172.23,354.06 L170.77,354.63 L169.31,355.20 L167.85,355.76 L166.39,356.33 L164.93,356.89 L163.47,357.46 L162.01,358.02 L160.55,358.59 L159.09,359.15 L157.63,359.72 L156.17,360.28 L154.71,360.85 L153.25,361.42 L151.79,361.98 L150.33,362.55 L148.87,363.11 L147.42,363.68 L145.96,364.24 L144.50,364.81 L143.04,365.37 L141.58,365.94 L140.12,366.50 L138.66,367.07 L137.20,367.63 L135.74,368.20 L134.28,368.77 L132.82,369.33 L131.36,369.90 L129.90,370.46 L128.44,371.03 L126.98,371.59 L125.52,372.16 L124.06,372.72 L122.60,373.29 L121.15,373.85 L119.69,374.42 L118.23,374.99 L116.77,375.55 L115.31,376.12 L115.05,376.22" fill="none" stroke="#ff00ff" stroke-width="2.45" stroke-linejoin="round" stroke-linecap="square"/>
<path d="M108.10,170.01 L110.54,170.08 L112.97,170.14 L115.39,170.21 L117.80,170.28 L120.19,170.35 L122.57,170.42 L124.93,170.48 L127.28,170.55 L129.63,170.62 L131.95,170.69 L134.27,170.76 L136.57,170.82 L138.86,170.89 L141.14,170.96 L143.41,171.03 L145.66,171.10 L147.91,171.16 L150.14,171.23 L152.36,171.30 L154.56,171.37 L156.76,171.44 L158.94,171.50 L161.11,171.57 L163.27,171.64 L165.42,171.71 L167.56,171.78 L169.68,171.84 L171.79,171.91 L173.90,171.98 L175.99,172.05 L178.07,172.12 L180.13,172.18 L182.19,172.25 L184.24,172.32 L186.27,172.39 L188.30,172.46 L190.31,172.52 L192.31,172.59 L194.30,172.66 L196.28,172.73 L198.25,172.80 L200.21,172.86 L202.16,172.93 L204.10,173.00 L206.02,173.07 L207.94,173.14 L209.85,173.20 L211.74,173.27 L213.63,173.34 L215.51,173.41 L217.37,173.48 L219.23,173.54 L221.07,173.61 L222.91,173.68 L224.73,173.75 L226.55,173.82 L228.35,173.88 L230.15,173.95 L231.93,174.02 L233.71,174.09 L235.48,174.16 L237.23,174.22 L238.98,174.29 L240.72,174.36 L242.44,174.43 L244.16,174.50 L245.87,174.56 L247.57,174.63 L249.26,174.70 L250.94,174.77 L252.61,174.84 L254.28,174.90 L255.93,174.97 L257.57,175.04 L259.21,175.11 L260.83,175.18 L262.45,175.24 L264.06,175.31 L265.66,175.38 L267.25,175.45 L268.83,175.52 L270.41,175.58 L271.97,175.65 L273.53,175.72 L275.07,175.79 L276.61,175.86 L278.14,175.92 L279.66,175.99 L281.18,176.06 L282.68,176.13 L284.92,176.23 L287.14,176.33 L289.35,176.43 L291.54,176.54 L293.70,176.64 L295.85,176.74 L297.98,176.84 L300.10,176.94 L302.19,177.05 L304.27,177.15 L306.33,177.25 L308.38,177.35 L310.40,177.45 L312.41,177.56 L314.40,177.66 L316.38,177.76 L318.34,177.86 L320.28,177.96 L322.21,178.07 L324.12,178.17 L326.01,178.27 L327.89,178.37 L329.75,178.47 L331.60,178.58 L333.43,178.68 L335.24,178.78 L337.04,178.88 L338.82,178.98 L340.59,179.09 L342.34,179.19 L344.08,179.29 L345.80,179.39 L347.51,179.49 L349.21,179.60 L350.89,179.70 L352.55,179.80 L354.20,179.90 L355.84,180.00 L357.46,180.11 L359.07,180.21 L360.66,180.31 L362.24,180.41 L363.81,180.51 L365.36,180.62 L366.90,180.72 L368.42,180.82 L369.94,180.92 L371.43,181.02 L373.41,181.16 L375.37,181.30 L377.30,181.43 L379.21,181.57 L381.10,181.70 L382.96,181.84 L384.81,181.98 L386.63,182.11 L388.43,182.25 L390.21,182.38 L391.96,182.52 L393.70,182.66 L395.41,182.79 L397.11,182.93 L398.78,183.06 L400.44,183.20 L402.07,183.34 L403.69,183.47 L405.28,183.61 L406.86,183.74 L408.42,183.88 L409.96,184.02 L411.48,184.15 L412.98,184.29 L414.83,184.46 L416.65,184.63 L418.44,184.80 L420.21,184.97 L421.95,185.14 L423.66,185.31 L425.35,185.48 L427.01,185.65 L428.64,185.82 L430.25,185.99 L431.83,186.16 L433.39,186.33 L434.92,186.50 L436.43,186.67 L438.20,186.87 L439.95,187.08 L441.66,187.28 L443.33,187.48 L444.98,187.69 L446.59,187.89 L448.17,188.10 L449.72,188.30 L451.23,188.50 L452.72,188.71 L454.42,188.95 L456.08,189.18 L457.70,189.42 L459.28,189.66 L460.82,189.90 L462.32,190.14 L464.00,190.41 L465.62,190.68 L467.21,190.95 L468.74,191.22 L470.23,191.49 L471.86,191.80 L473.43,192.11 L474.96,192.41 L476.43,192.72 L478.00,193.06 L479.51,193.40 L481.11,193.77 L482.64,194.15 L484.10,194.52 L485.62,194.93 L487.18,195.37 L488.65,195.81 L490.15,196.29 L491.64,196.80 L493.13,197.34 L494.58,197.92 L495.98,198.53 L497.39,199.21 L498.76,199.96 L500.05,200.78 L501.28,201.69 L502.39,202.75 L503.31,203.94 L503.95,205.30 L504.20,206.79 L504.02,208.29 L503.50,209.72 L502.73,211.04 L501.80,212.27 L500.78,213.39 L499.68,214.44 L498.55,215.43 L497.36,216.38 L496.14,217.30 L494.89,218.18 L493.62,219.03 L492.36,219.85 L491.04,220.66 L489.74,221.45 L488.40,222.23 L487.07,222.98 L485.72,223.72 L484.40,224.44 L483.06,225.15 L481.68,225.87 L480.29,226.58 L478.94,227.26 L477.57,227.94 L476.18,228.62 L474.77,229.30 L473.35,229.98 L471.98,230.63 L470.60,231.27 L469.20,231.92 L467.80,232.56 L466.38,233.21 L464.95,233.86 L463.50,234.50 L462.13,235.11 L460.74,235.73 L459.35,236.34 L457.95,236.95 L456.54,237.56 L455.12,238.17 L453.70,238.79 L452.27,239.40 L450.83,240.01 L449.39,240.62 L447.94,241.23 L446.49,241.84 L445.02,242.46 L443.56,243.07 L442.17,243.65 L440.78,244.22 L439.38,244.80 L437.98,245.38 L436.57,245.96 L435.17,246.54 L433.75,247.11 L432.34,247.69 L430.92,248.27 L429.50,248.85 L428.07,249.43 L426.65,250.00 L425.22,250.58 L423.78,251.16 L422.35,251.74 L420.91,252.32 L419.47,252.89 L418.03,253.47 L416.59,254.05 L415.14,254.63 L413.69,255.21 L412.24,255.78 L410.79,256.36 L409.34,256.94 L407.89,257.52 L406.43,258.10 L404.97,258.67 L403.51,259.25 L402.05,259.83 L400.59,260.41 L399.13,260.99 L397.66,261.56 L396.20,262.14 L394.73,262.72 L393.26,263.30 L391.80,263.88 L390.33,264.45 L388.86,265.03 L387.38,265.61 L385.91,266.19 L384.44,266.76 L382.97,267.34 L381.49,267.92 L380.02,268.50 L378.54,269.08 L377.06,269.65 L375.59,270.23 L374.11,270.81 L372.63,271.39 L371.15,271.97 L369.67,272.54 L368.19,273.12 L366.71,273.70 L365.23,274.28 L363.75,274.86 L362.27,275.43 L360.79,276.01 L359.30,276.59 L357.82,277.17 L356.34,277.75 L354.85,278.32 L353.37,278.90 L351.88,279.48 L350.40,280.06 L348.91,280.64 L347.43,281.21 L346.03,281.76 L344.63,282.30 L343.23,282.85 L341.84,283.39 L340.44,283.93 L339.04,284.48 L337.64,285.02 L336.24,285.57 L334.84,286.11 L333.44,286.65 L332.04,287.20 L330.64,287.74 L329.24,288.28 L327.84,288.83 L326.44,289.37 L325.04,289.92 L323.63,290.46 L322.23,291.00 L320.83,291.55 L319.43,292.09 L318.03,292.64 L316.63,293.18 L315.23,293.72 L313.82,294.27 L312.42,294.81 L311.02,295.36 L309.62,295.90 L308.22,296.44 L306.82,296.99 L305.41,297.53 L304.01,298.08 L302.61,298.62 L301.21,299.16 L299.80,299.71 L298.40,300.25 L297.00,300.80 L295.60,301.34 L294.19,301.88 L292.79,302.43 L291.39,302.97 L289.98,303.52 L288.58,304.06 L287.18,304.60 L285.78,305.15 L284.37,305.69 L282.97,306.24 L281.57,306.78 L280.16,307.32 L278.76,307.87 L277.36,308.41 L275.95,308.96 L274.55,309.50 L273.15,310.04 L271.74,310.59 L270.34,311.13 L268.94,311.68 L267.53,312.22 L266.13,312.76 L264.73,313.31 L263.32,313.85 L261.92,314.39 L260.52,314.94 L259.11,315.48 L257.71,316.03 L256.31,316.57 L254.90,317.11 L253.50,317.66 L252.09,318.20 L250.69,318.75 L249.29,319.29 L247.88,319.83 L246.48,320.38 L245.08,320.92 L243.67,321.47 L242.27,322.01 L240.86,322.55 L239.46,323.10 L238.06,323.64 L236.65,324.19 L235.25,324.73 L233.85,325.27 L232.44,325.82 L231.04,326.36 L229.63,326.91 L228.23,327.45 L226.83,327.99 L225.42,328.54 L224.02,329.08 L222.61,329.63 L221.21,330.17 L219.81,330.71 L218.40,331.26 L217.00,331.80 L215.60,332.35 L214.19,332.89 L212.79,333.43 L211.38,333.98 L209.98,334.52 L208.58,335.07 L207.17,335.61 L205.77,336.15 L204.36,336.70 L202.96,337.24 L201.56,337.78 L200.15,338.33 L198.75,338.87 L197.34,339.42 L195.94,339.96 L194.54,340.50 L193.13,341.05 L191.73,341.59 L190.32,342.14 L188.92,342.68 L187.52,343.22 L186.11,343.77 L184.71,344.31 L183.30,344.86 L181.90,345.40 L180.50,345.94 L179.09,346.49 L177.69,347.03 L176.28,347.58 L174.88,348.12 L173.48,348.66 L172.07,349.21 L170.67,349.75 L169.26,350.30 L167.86,350.84 L166.46,351.38 L165.05,351.93 L163.65,352.47 L162.24,353.02 L160.84,353.56 L159.44,354.10 L158.03,354.65 L156.63,355.19 L155.22,355.74 L153.82,356.28 L152.42,356.82 L151.01,357.37 L149.61,357.91 L148.20,358.46 L146.80,359.00 L145.40,359.54 L143.99,360.09 L142.59,360.63 L141.18,361.17 L139.78,361.72 L138.37,362.26 L136.97,362.81 L135.57,363.35 L134.16,363.89 L132.76,364.44 L131.35,364.98 L129.95,365.53 L128.55,366.07 L127.14,366.61 L125.74,367.16 L124.33,367.70 L122.93,368.25 L121.53,368.79 L120.12,369.33 L118.72,369.88 L117.31,370.42 L115.91,370.97 L114.51,371.51 L113.10,372.05 L111.70,372.60 L110.29,373.14 L108.89,373.69 L108.10,373.99" fill="none" stroke="#aa4b4b" stroke-width="2.45" stroke-linejoin="round" stroke-linecap="square"/>
<path d="M108.10,165.07 L110.29,165.14 L112.47,165.20 L114.64,165.27 L116.80,165.33 L118.95,165.39 L121.09,165.46 L123.21,165.52 L125.33,165.59 L127.43,165.65 L129.53,165.72 L131.61,165.78 L133.68,165.85 L135.75,165.91 L137.80,165.98 L139.84,166.04 L141.87,166.10 L143.89,166.17 L145.90,166.23 L147.90,166.30 L149.89,166.36 L151.87,166.43 L153.84,166.49 L155.80,166.56 L157.75,166.62 L159.68,166.69 L161.61,166.75 L163.53,166.81 L165.44,166.88 L167.34,166.94 L169.23,167.01 L171.11,167.07 L172.98,167.14 L174.84,167.20 L176.69,167.27 L178.54,167.33 L180.37,167.40 L182.19,167.46 L184.00,167.52 L185.81,167.59 L187.60,167.65 L189.39,167.72 L191.17,167.78 L192.93,167.85 L194.69,167.91 L196.44,167.98 L198.18,168.04 L199.91,168.11 L201.63,168.17 L203.35,168.23 L205.05,168.30 L206.74,168.36 L208.43,168.43 L210.11,168.49 L211.78,168.56 L213.44,168.62 L215.09,168.69 L216.73,168.75 L218.37,168.81 L219.99,168.88 L221.61,168.94 L223.22,169.01 L224.82,169.07 L226.41,169.14 L228.00,169.20 L229.57,169.27 L231.14,169.33 L232.70,169.40 L234.25,169.46 L235.80,169.52 L237.33,169.59 L238.86,169.65 L240.38,169.72 L241.89,169.78 L243.39,169.85 L245.63,169.94 L247.86,170.04 L250.06,170.14 L252.25,170.23 L254.42,170.33 L256.57,170.43 L258.71,170.52 L260.83,170.62 L262.93,170.72 L265.02,170.82 L267.09,170.91 L269.14,171.01 L271.18,171.11 L273.20,171.20 L275.20,171.30 L277.19,171.40 L279.16,171.49 L281.12,171.59 L283.06,171.69 L284.99,171.78 L286.90,171.88 L288.79,171.98 L290.67,172.07 L292.54,172.17 L294.39,172.27 L296.23,172.36 L298.05,172.46 L299.85,172.56 L301.64,172.65 L303.42,172.75 L305.18,172.85 L306.93,172.94 L308.67,173.04 L310.39,173.14 L312.09,173.24 L313.78,173.33 L315.46,173.43 L317.13,173.53 L318.78,173.62 L320.42,173.72 L322.04,173.82 L323.65,173.91 L325.25,174.01 L326.84,174.11 L328.41,174.20 L329.97,174.30 L331.52,174.40 L333.05,174.49 L334.57,174.59 L336.08,174.69 L338.07,174.82 L340.04,174.95 L341.99,175.07 L343.92,175.20 L345.82,175.33 L347.71,175.46 L349.57,175.59 L351.42,175.72 L353.24,175.85 L355.04,175.98 L356.82,176.11 L358.59,176.24 L360.33,176.36 L362.05,176.49 L363.76,176.62 L365.44,176.75 L367.11,176.88 L368.75,177.01 L370.38,177.14 L371.99,177.27 L373.58,177.40 L375.16,177.53 L376.71,177.66 L378.25,177.78 L379.77,177.91 L381.27,178.04 L383.12,178.20 L384.95,178.37 L386.75,178.53 L388.53,178.69 L390.27,178.85 L392.00,179.01 L393.70,179.17 L395.37,179.33 L397.02,179.49 L398.64,179.66 L400.24,179.82 L401.82,179.98 L403.37,180.14 L404.90,180.30 L406.41,180.46 L408.19,180.66 L409.94,180.85 L411.65,181.04 L413.33,181.24 L414.99,181.43 L416.61,181.62 L418.20,181.82 L419.77,182.01 L421.30,182.20 L422.81,182.40 L424.53,182.62 L426.21,182.85 L427.86,183.08 L429.46,183.30 L431.04,183.53 L432.57,183.75 L434.08,183.98 L435.75,184.24 L437.39,184.50 L438.97,184.75 L440.52,185.01 L442.02,185.27 L443.67,185.56 L445.26,185.85 L446.81,186.14 L448.30,186.43 L449.91,186.75 L451.46,187.08 L452.96,187.40 L454.54,187.75 L456.05,188.11 L457.64,188.50 L459.15,188.88 L460.70,189.30 L462.18,189.72 L463.69,190.17 L465.20,190.66 L466.71,191.17 L468.20,191.72 L469.66,192.30 L471.06,192.92 L472.45,193.59 L473.80,194.34 L475.08,195.14 L476.28,196.05 L477.37,197.08 L478.30,198.27 L478.94,199.63 L479.20,201.11 L479.03,202.63 L478.51,204.05 L477.74,205.37 L476.82,206.60 L475.79,207.73 L474.69,208.79 L473.54,209.79 L472.33,210.76 L471.12,211.66 L469.89,212.53 L468.64,213.37 L467.34,214.21 L466.04,215.02 L464.75,215.79 L463.42,216.57 L462.11,217.31 L460.77,218.05 L459.40,218.79 L458.06,219.50 L456.69,220.21 L455.30,220.92 L453.96,221.60 L452.59,222.28 L451.21,222.95 L449.81,223.63 L448.39,224.31 L447.02,224.95 L445.65,225.60 L444.25,226.24 L442.85,226.89 L441.43,227.54 L440.00,228.18 L438.56,228.83 L437.18,229.44 L435.80,230.05 L434.40,230.67 L433.00,231.28 L431.59,231.89 L430.17,232.50 L428.74,233.12 L427.31,233.73 L425.87,234.34 L424.42,234.96 L422.97,235.57 L421.52,236.18 L420.13,236.76 L418.74,237.34 L417.34,237.92 L415.94,238.51 L414.54,239.09 L413.13,239.67 L411.72,240.25 L410.31,240.83 L408.89,241.41 L407.47,241.99 L406.04,242.57 L404.61,243.15 L403.18,243.73 L401.75,244.31 L400.31,244.89 L398.87,245.47 L397.43,246.06 L395.99,246.64 L394.54,247.22 L393.09,247.80 L391.64,248.38 L390.19,248.96 L388.73,249.54 L387.28,250.12 L385.82,250.70 L384.36,251.28 L382.90,251.86 L381.43,252.44 L379.97,253.02 L378.50,253.60 L377.04,254.19 L375.57,254.77 L374.10,255.35 L372.63,255.93 L371.15,256.51 L369.68,257.09 L368.21,257.67 L366.73,258.25 L365.25,258.83 L363.78,259.41 L362.38,259.96 L360.98,260.51 L359.58,261.06 L358.19,261.61 L356.79,262.15 L355.39,262.70 L353.99,263.25 L352.59,263.80 L351.18,264.35 L349.78,264.90 L348.38,265.45 L346.98,265.99 L345.57,266.54 L344.17,267.09 L342.76,267.64 L341.36,268.19 L339.95,268.74 L338.55,269.29 L337.14,269.83 L335.73,270.38 L334.33,270.93 L332.92,271.48 L331.51,272.03 L330.10,272.58 L328.70,273.12 L327.29,273.67 L325.88,274.22 L324.47,274.77 L323.06,275.32 L321.65,275.87 L320.24,276.42 L318.83,276.96 L317.42,277.51 L316.01,278.06 L314.60,278.61 L313.19,279.16 L311.78,279.71 L310.36,280.25 L308.95,280.80 L307.54,281.35 L306.13,281.90 L304.72,282.45 L303.30,283.00 L301.89,283.55 L300.48,284.09 L299.07,284.64 L297.65,285.19 L296.24,285.74 L294.83,286.29 L293.42,286.84 L292.00,287.39 L290.59,287.93 L289.18,288.48 L287.76,289.03 L286.35,289.58 L284.94,290.13 L283.52,290.68 L282.11,291.22 L280.69,291.77 L279.28,292.32 L277.87,292.87 L276.45,293.42 L275.04,293.97 L273.62,294.52 L272.21,295.06 L270.80,295.61 L269.38,296.16 L267.97,296.71 L266.55,297.26 L265.14,297.81 L263.72,298.36 L262.31,298.90 L260.89,299.45 L259.48,300.00 L258.06,300.55 L256.65,301.10 L255.23,301.65 L253.82,302.19 L252.40,302.74 L250.99,303.29 L249.57,303.84 L248.16,304.39 L246.74,304.94 L245.33,305.49 L243.91,306.03 L242.50,306.58 L241.08,307.13 L239.67,307.68 L238.25,308.23 L236.84,308.78 L235.42,309.32 L234.01,309.87 L232.59,310.42 L231.18,310.97 L229.76,311.52 L228.35,312.07 L226.93,312.62 L225.52,313.16 L224.10,313.71 L222.69,314.26 L221.27,314.81 L219.85,315.36 L218.44,315.91 L217.02,316.46 L215.61,317.00 L214.19,317.55 L212.78,318.10 L211.36,318.65 L209.95,319.20 L208.53,319.75 L207.11,320.29 L205.70,320.84 L204.28,321.39 L202.87,321.94 L201.45,322.49 L200.04,323.04 L198.62,323.59 L197.21,324.13 L195.79,324.68 L194.37,325.23 L192.96,325.78 L191.54,326.33 L190.13,326.88 L188.71,327.42 L187.30,327.97 L185.88,328.52 L184.47,329.07 L183.05,329.62 L181.63,330.17 L180.22,330.72 L178.80,331.26 L177.39,331.81 L175.97,332.36 L174.56,332.91 L173.14,333.46 L171.72,334.01 L170.31,334.56 L168.89,335.10 L167.48,335.65 L166.06,336.20 L164.65,336.75 L163.23,337.30 L161.81,337.85 L160.40,338.39 L158.98,338.94 L157.57,339.49 L156.15,340.04 L154.74,340.59 L153.32,341.14 L151.90,341.69 L150.49,342.23 L149.07,342.78 L147.66,343.33 L146.24,343.88 L144.83,344.43 L143.41,344.98 L141.99,345.53 L140.58,346.07 L139.16,346.62 L137.75,347.17 L136.33,347.72 L134.92,348.27 L133.50,348.82 L132.08,349.36 L130.67,349.91 L129.25,350.46 L127.84,351.01 L126.42,351.56 L125.01,352.11 L123.59,352.66 L122.17,353.20 L120.76,353.75 L119.34,354.30 L117.93,354.85 L116.51,355.40 L115.10,355.95 L113.68,356.49 L112.26,357.04 L110.85,357.59 L109.43,358.14 L108.10,358.66" fill="none" stroke="#e07060" stroke-width="2.45" stroke-linejoin="round" stroke-linecap="square"/>
<path d="M108.10,156.78 L110.29,156.84 L112.47,156.91 L114.64,156.97 L116.79,157.04 L118.94,157.10 L121.08,157.17 L123.20,157.23 L125.31,157.29 L127.42,157.36 L129.51,157.42 L131.59,157.49 L133.66,157.55 L135.72,157.62 L137.77,157.68 L139.81,157.75 L141.84,157.81 L143.86,157.87 L145.87,157.94 L147.86,158.00 L149.85,158.07 L151.83,158.13 L153.80,158.20 L155.75,158.26 L157.70,158.33 L159.64,158.39 L161.57,158.46 L163.48,158.52 L165.39,158.58 L167.29,158.65 L169.18,158.71 L171.06,158.78 L172.93,158.84 L174.79,158.91 L176.64,158.97 L178.48,159.04 L180.31,159.10 L182.13,159.16 L183.94,159.23 L185.74,159.29 L187.54,159.36 L189.32,159.42 L191.09,159.49 L192.86,159.55 L194.62,159.62 L196.36,159.68 L198.10,159.75 L199.83,159.81 L201.55,159.87 L203.26,159.94 L204.97,160.00 L206.66,160.07 L208.35,160.13 L210.02,160.20 L211.69,160.26 L213.35,160.33 L215.00,160.39 L216.64,160.45 L218.28,160.52 L219.90,160.58 L221.52,160.65 L223.12,160.71 L224.72,160.78 L226.32,160.84 L227.90,160.91 L229.47,160.97 L231.04,161.04 L232.60,161.10 L234.15,161.16 L235.69,161.23 L237.23,161.29 L238.75,161.36 L240.27,161.42 L241.78,161.49 L243.28,161.55 L245.52,161.65 L247.74,161.74 L249.94,161.84 L252.13,161.94 L254.30,162.03 L256.45,162.13 L258.59,162.23 L260.70,162.33 L262.81,162.42 L264.89,162.52 L266.96,162.62 L269.01,162.71 L271.05,162.81 L273.06,162.91 L275.07,163.00 L277.06,163.10 L279.03,163.20 L280.98,163.29 L282.92,163.39 L284.85,163.49 L286.76,163.58 L288.65,163.68 L290.53,163.78 L292.39,163.87 L294.24,163.97 L296.08,164.07 L297.90,164.16 L299.70,164.26 L301.49,164.36 L303.27,164.45 L305.03,164.55 L306.78,164.65 L308.51,164.74 L310.23,164.84 L311.93,164.94 L313.62,165.03 L315.30,165.13 L316.97,165.23 L318.62,165.32 L320.25,165.42 L321.88,165.52 L323.49,165.61 L325.09,165.71 L326.67,165.81 L328.24,165.90 L329.80,166.00 L331.35,166.10 L332.88,166.20 L334.40,166.29 L335.91,166.39 L337.90,166.52 L339.87,166.65 L341.81,166.78 L343.74,166.90 L345.65,167.03 L347.53,167.16 L349.39,167.29 L351.23,167.42 L353.06,167.55 L354.86,167.68 L356.64,167.81 L358.40,167.94 L360.14,168.07 L361.87,168.19 L363.57,168.32 L365.25,168.45 L366.92,168.58 L368.56,168.71 L370.19,168.84 L371.80,168.97 L373.39,169.10 L374.96,169.23 L376.52,169.36 L378.05,169.48 L379.57,169.61 L381.07,169.74 L382.93,169.90 L384.75,170.07 L386.55,170.23 L388.33,170.39 L390.07,170.55 L391.80,170.71 L393.49,170.87 L395.17,171.03 L396.81,171.19 L398.44,171.36 L400.04,171.52 L401.61,171.68 L403.17,171.84 L404.70,172.00 L406.20,172.16 L407.98,172.35 L409.73,172.55 L411.44,172.74 L413.12,172.94 L414.78,173.13 L416.40,173.32 L417.99,173.52 L419.55,173.71 L421.09,173.90 L422.59,174.10 L424.31,174.32 L426.00,174.55 L427.64,174.77 L429.25,175.00 L430.82,175.23 L432.36,175.45 L433.86,175.68 L435.54,175.93 L437.17,176.19 L438.76,176.45 L440.30,176.71 L441.81,176.97 L443.45,177.26 L445.05,177.55 L446.59,177.84 L448.09,178.13 L449.69,178.45 L451.24,178.77 L452.74,179.10 L454.32,179.45 L455.84,179.80 L457.42,180.19 L458.93,180.58 L460.49,181.00 L461.97,181.42 L463.47,181.87 L464.99,182.35 L466.50,182.87 L467.99,183.42 L469.44,184.00 L470.84,184.61 L472.24,185.29 L473.59,186.03 L474.87,186.84 L476.07,187.74 L477.16,188.77 L478.09,189.96 L478.74,191.32 L479.00,192.80 L478.83,194.32 L478.31,195.74 L477.55,197.06 L476.63,198.28 L475.60,199.41 L474.50,200.48 L473.35,201.48 L472.15,202.44 L470.94,203.35 L469.71,204.22 L468.46,205.06 L467.16,205.90 L465.86,206.70 L464.57,207.48 L463.25,208.25 L461.94,208.99 L460.60,209.73 L459.23,210.47 L457.89,211.18 L456.53,211.89 L455.14,212.60 L453.80,213.28 L452.43,213.96 L451.05,214.63 L449.65,215.31 L448.23,215.99 L446.87,216.63 L445.49,217.28 L444.10,217.92 L442.69,218.57 L441.28,219.21 L439.85,219.86 L438.41,220.50 L437.03,221.12 L435.65,221.73 L434.25,222.34 L432.85,222.96 L431.44,223.57 L430.02,224.18 L428.60,224.79 L427.17,225.41 L425.73,226.02 L424.28,226.63 L422.83,227.24 L421.37,227.86 L419.99,228.44 L418.60,229.02 L417.21,229.60 L415.81,230.18 L414.40,230.76 L413.00,231.34 L411.59,231.92 L410.17,232.50 L408.76,233.08 L407.33,233.66 L405.91,234.24 L404.48,234.82 L403.05,235.40 L401.62,235.98 L400.18,236.57 L398.74,237.15 L397.30,237.73 L395.86,238.31 L394.41,238.89 L392.97,239.47 L391.52,240.05 L390.06,240.63 L388.61,241.21 L387.15,241.79 L385.70,242.37 L384.24,242.95 L382.78,243.53 L381.31,244.11 L379.85,244.69 L378.39,245.27 L376.92,245.85 L375.45,246.43 L373.98,247.01 L372.51,247.59 L371.04,248.18 L369.57,248.76 L368.09,249.34 L366.62,249.92 L365.14,250.50 L363.66,251.08 L362.19,251.66 L360.79,252.21 L359.39,252.75 L358.00,253.30 L356.60,253.85 L355.20,254.40 L353.80,254.95 L352.40,255.50 L351.00,256.04 L349.59,256.59 L348.19,257.14 L346.79,257.69 L345.39,258.24 L343.98,258.79 L342.58,259.33 L341.17,259.88 L339.77,260.43 L338.36,260.98 L336.96,261.53 L335.55,262.07 L334.15,262.62 L332.74,263.17 L331.33,263.72 L329.92,264.27 L328.52,264.82 L327.11,265.36 L325.70,265.91 L324.29,266.46 L322.88,267.01 L321.47,267.56 L320.06,268.11 L318.66,268.65 L317.25,269.20 L315.84,269.75 L314.43,270.30 L313.01,270.85 L311.60,271.40 L310.19,271.94 L308.78,272.49 L307.37,273.04 L305.96,273.59 L304.55,274.14 L303.14,274.68 L301.73,275.23 L300.31,275.78 L298.90,276.33 L297.49,276.88 L296.08,277.43 L294.67,277.97 L293.25,278.52 L291.84,279.07 L290.43,279.62 L289.01,280.17 L287.60,280.72 L286.19,281.26 L284.78,281.81 L283.36,282.36 L281.95,282.91 L280.54,283.46 L279.12,284.00 L277.71,284.55 L276.30,285.10 L274.88,285.65 L273.47,286.20 L272.06,286.75 L270.64,287.29 L269.23,287.84 L267.81,288.39 L266.40,288.94 L264.99,289.49 L263.57,290.04 L262.16,290.58 L260.74,291.13 L259.33,291.68 L257.92,292.23 L256.50,292.78 L255.09,293.33 L253.67,293.87 L252.26,294.42 L250.84,294.97 L249.43,295.52 L248.02,296.07 L246.60,296.61 L245.19,297.16 L243.77,297.71 L242.36,298.26 L240.94,298.81 L239.53,299.36 L238.11,299.90 L236.70,300.45 L235.29,301.00 L233.87,301.55 L232.46,302.10 L231.04,302.65 L229.63,303.19 L228.21,303.74 L226.80,304.29 L225.38,304.84 L223.97,305.39 L222.55,305.94 L221.14,306.48 L219.72,307.03 L218.31,307.58 L216.89,308.13 L215.48,308.68 L214.06,309.22 L212.65,309.77 L211.23,310.32 L209.82,310.87 L208.40,311.42 L206.99,311.97 L205.57,312.51 L204.16,313.06 L202.74,313.61 L201.33,314.16 L199.91,314.71 L198.50,315.26 L197.08,315.80 L195.67,316.35 L194.25,316.90 L192.84,317.45 L191.42,318.00 L190.01,318.54 L188.59,319.09 L187.18,319.64 L185.76,320.19 L184.35,320.74 L182.93,321.29 L181.52,321.83 L180.10,322.38 L178.69,322.93 L177.27,323.48 L175.86,324.03 L174.44,324.58 L173.03,325.12 L171.61,325.67 L170.20,326.22 L168.78,326.77 L167.37,327.32 L165.95,327.87 L164.54,328.41 L163.12,328.96 L161.71,329.51 L160.29,330.06 L158.88,330.61 L157.46,331.15 L156.05,331.70 L154.63,332.25 L153.22,332.80 L151.80,333.35 L150.39,333.90 L148.97,334.44 L147.56,334.99 L146.14,335.54 L144.73,336.09 L143.31,336.64 L141.90,337.19 L140.48,337.73 L139.07,338.28 L137.65,338.83 L136.24,339.38 L134.82,339.93 L133.41,340.47 L131.99,341.02 L130.58,341.57 L129.16,342.12 L127.75,342.67 L126.33,343.22 L124.92,343.76 L123.50,344.31 L122.08,344.86 L120.67,345.41 L119.25,345.96 L117.84,346.51 L116.42,347.05 L115.01,347.60 L113.59,348.15 L112.18,348.70 L110.76,349.25 L109.35,349.80 L108.10,350.28" fill="none" stroke="#80508a" stroke-width="2.45" stroke-linejoin="round" stroke-linecap="square"/>
<path d="M108.10,150.33 L111.04,150.41 L113.97,150.48 L116.87,150.56 L119.76,150.63 L122.64,150.71 L125.49,150.78 L128.33,150.86 L131.16,150.93 L133.96,151.00 L136.76,151.08 L139.53,151.15 L142.29,151.23 L145.03,151.30 L147.76,151.38 L150.47,151.45 L153.16,151.52 L155.84,151.60 L158.51,151.67 L161.16,151.75 L163.79,151.82 L166.41,151.90 L169.01,151.97 L171.59,152.05 L174.17,152.12 L176.72,152.19 L179.26,152.27 L181.79,152.34 L184.30,152.42 L186.80,152.49 L189.28,152.57 L191.75,152.64 L194.21,152.71 L196.64,152.79 L199.07,152.86 L201.48,152.94 L203.88,153.01 L206.26,153.09 L208.63,153.16 L210.98,153.24 L213.32,153.31 L215.65,153.38 L217.96,153.46 L220.26,153.53 L222.55,153.61 L224.82,153.68 L227.08,153.76 L229.33,153.83 L231.56,153.90 L233.78,153.98 L235.99,154.05 L238.18,154.13 L240.36,154.20 L242.53,154.28 L244.68,154.35 L246.82,154.43 L248.95,154.50 L251.07,154.57 L253.17,154.65 L255.26,154.72 L257.34,154.80 L259.41,154.87 L261.46,154.95 L263.51,155.02 L265.54,155.09 L267.55,155.17 L269.56,155.24 L271.55,155.32 L273.54,155.39 L275.51,155.47 L277.46,155.54 L279.41,155.62 L281.35,155.69 L283.27,155.76 L285.18,155.84 L287.08,155.91 L288.97,155.99 L290.85,156.06 L292.72,156.14 L294.57,156.21 L296.42,156.28 L298.25,156.36 L300.07,156.43 L301.88,156.51 L303.68,156.58 L305.47,156.66 L307.25,156.73 L309.02,156.81 L310.78,156.88 L312.52,156.95 L314.26,157.03 L315.99,157.10 L317.70,157.18 L319.41,157.25 L321.10,157.33 L322.78,157.40 L324.46,157.48 L326.12,157.55 L327.78,157.62 L329.42,157.70 L331.05,157.77 L332.68,157.85 L334.29,157.92 L335.90,158.00 L337.49,158.07 L339.08,158.14 L340.65,158.22 L342.22,158.29 L343.77,158.37 L345.32,158.44 L346.85,158.52 L348.38,158.59 L349.90,158.67 L351.41,158.74 L352.91,158.81 L355.14,158.93 L357.35,159.04 L359.54,159.15 L361.72,159.26 L363.87,159.37 L366.00,159.48 L368.11,159.59 L370.20,159.71 L372.27,159.82 L374.33,159.93 L376.36,160.04 L378.38,160.15 L380.37,160.26 L382.35,160.38 L384.31,160.49 L386.25,160.60 L388.17,160.71 L390.08,160.82 L391.97,160.93 L393.84,161.05 L395.69,161.16 L397.52,161.27 L399.34,161.38 L401.14,161.49 L402.92,161.60 L404.69,161.71 L406.44,161.83 L408.17,161.94 L409.89,162.05 L411.59,162.16 L413.27,162.27 L414.94,162.38 L416.59,162.50 L418.22,162.61 L419.84,162.72 L421.45,162.83 L423.04,162.94 L424.61,163.05 L426.17,163.17 L427.71,163.28 L429.24,163.39 L430.76,163.50 L432.26,163.61 L434.23,163.76 L436.18,163.91 L438.11,164.06 L440.01,164.21 L441.89,164.36 L443.74,164.50 L445.56,164.65 L447.37,164.80 L449.15,164.95 L450.90,165.10 L452.63,165.25 L454.34,165.40 L456.03,165.55 L457.69,165.69 L459.34,165.84 L460.96,165.99 L462.55,166.14 L464.13,166.29 L465.69,166.44 L467.22,166.59 L468.74,166.74 L470.23,166.88 L472.07,167.07 L473.87,167.26 L475.65,167.44 L477.39,167.63 L479.11,167.81 L480.79,168.00 L482.45,168.19 L484.08,168.37 L485.67,168.56 L487.24,168.74 L488.79,168.93 L490.30,169.12 L492.08,169.34 L493.83,169.56 L495.53,169.79 L497.20,170.01 L498.84,170.23 L500.43,170.45 L502.00,170.68 L503.52,170.90 L505.02,171.12 L506.71,171.38 L508.37,171.64 L509.98,171.91 L511.55,172.17 L513.07,172.43 L514.56,172.69 L516.20,172.98 L517.79,173.28 L519.34,173.58 L520.83,173.88 L522.45,174.21 L524.01,174.55 L525.51,174.88 L527.12,175.25 L528.65,175.62 L530.11,176.00 L531.65,176.41 L533.11,176.81 L534.62,177.26 L536.16,177.74 L537.60,178.23 L539.04,178.75 L540.48,179.31 L541.88,179.90 L543.31,180.57 L544.65,181.28 L545.95,182.06 L547.21,182.95 L548.36,183.95 L549.35,185.11 L550.10,186.45 L550.47,187.90 L550.41,189.42 L549.98,190.87 L549.28,192.21 L548.41,193.44 L547.41,194.59 L546.33,195.67 L545.21,196.67 L544.04,197.64 L542.82,198.57 L541.58,199.46 L540.32,200.32 L539.01,201.17 L537.70,201.99 L536.41,202.77 L535.08,203.55 L533.78,204.30 L532.45,205.04 L531.08,205.79 L529.75,206.49 L528.40,207.20 L527.03,207.91 L525.63,208.61 L524.29,209.28 L522.93,209.95 L521.55,210.62 L520.15,211.29 L518.74,211.96 L517.31,212.63 L515.95,213.26 L514.58,213.89 L513.19,214.53 L511.80,215.16 L510.39,215.79 L508.97,216.42 L507.54,217.05 L506.11,217.69 L504.66,218.32 L503.21,218.95 L501.75,219.58 L500.36,220.18 L498.98,220.77 L497.58,221.37 L496.18,221.96 L494.77,222.56 L493.36,223.15 L491.94,223.75 L490.52,224.34 L489.09,224.94 L487.66,225.53 L486.22,226.13 L484.78,226.72 L483.33,227.32 L481.89,227.91 L480.43,228.51 L478.98,229.10 L477.52,229.70 L476.05,230.29 L474.59,230.89 L473.12,231.48 L471.65,232.08 L470.17,232.67 L468.69,233.27 L467.21,233.86 L465.73,234.46 L464.25,235.06 L462.85,235.61 L461.46,236.17 L460.06,236.73 L458.66,237.29 L457.26,237.84 L455.86,238.40 L454.46,238.96 L453.05,239.52 L451.64,240.08 L450.24,240.63 L448.83,241.19 L447.42,241.75 L446.00,242.31 L444.59,242.87 L443.18,243.42 L441.76,243.98 L440.35,244.54 L438.93,245.10 L437.51,245.65 L436.09,246.21 L434.67,246.77 L433.25,247.33 L431.83,247.89 L430.41,248.44 L428.99,249.00 L427.56,249.56 L426.14,250.12 L424.72,250.68 L423.29,251.23 L421.86,251.79 L420.44,252.35 L419.01,252.91 L417.58,253.46 L416.16,254.02 L414.73,254.58 L413.30,255.14 L411.87,255.70 L410.44,256.25 L409.01,256.81 L407.58,257.37 L406.15,257.93 L404.72,258.49 L403.29,259.04 L401.85,259.60 L400.42,260.16 L398.99,260.72 L397.56,261.27 L396.12,261.83 L394.69,262.39 L393.25,262.95 L391.82,263.51 L390.39,264.06 L388.95,264.62 L387.52,265.18 L386.08,265.74 L384.65,266.30 L383.21,266.85 L381.78,267.41 L380.34,267.97 L378.91,268.53 L377.47,269.08 L376.03,269.64 L374.60,270.20 L373.16,270.76 L371.72,271.32 L370.29,271.87 L368.85,272.43 L367.41,272.99 L365.98,273.55 L364.54,274.11 L363.10,274.66 L361.66,275.22 L360.23,275.78 L358.79,276.34 L357.35,276.89 L355.91,277.45 L354.48,278.01 L353.04,278.57 L351.60,279.13 L350.16,279.68 L348.72,280.24 L347.29,280.80 L345.85,281.36 L344.41,281.92 L342.97,282.47 L341.53,283.03 L340.09,283.59 L338.65,284.15 L337.22,284.70 L335.78,285.26 L334.34,285.82 L332.90,286.38 L331.46,286.94 L330.02,287.49 L328.58,288.05 L327.14,288.61 L325.70,289.17 L324.27,289.73 L322.83,290.28 L321.39,290.84 L319.95,291.40 L318.51,291.96 L317.07,292.51 L315.63,293.07 L314.19,293.63 L312.75,294.19 L311.31,294.75 L309.87,295.30 L308.43,295.86 L306.99,296.42 L305.55,296.98 L304.11,297.54 L302.68,298.09 L301.24,298.65 L299.80,299.21 L298.36,299.77 L296.92,300.32 L295.48,300.88 L294.04,301.44 L292.60,302.00 L291.16,302.56 L289.72,303.11 L288.28,303.67 L286.84,304.23 L285.40,304.79 L283.96,305.35 L282.52,305.90 L281.08,306.46 L279.64,307.02 L278.20,307.58 L276.76,308.14 L275.32,308.69 L273.88,309.25 L272.44,309.81 L271.00,310.37 L269.56,310.92 L268.12,311.48 L266.68,312.04 L265.24,312.60 L263.80,313.16 L262.36,313.71 L260.92,314.27 L259.48,314.83 L258.04,315.39 L256.60,315.95 L255.17,316.50 L253.73,317.06 L252.29,317.62 L250.85,318.18 L249.41,318.73 L247.97,319.29 L246.53,319.85 L245.09,320.41 L243.65,320.97 L242.21,321.52 L240.77,322.08 L239.33,322.64 L237.89,323.20 L236.45,323.76 L235.01,324.31 L233.57,324.87 L232.13,325.43 L230.69,325.99 L229.25,326.54 L227.81,327.10 L226.37,327.66 L224.93,328.22 L223.49,328.78 L222.05,329.33 L220.61,329.89 L219.17,330.45 L217.73,331.01 L216.29,331.57 L214.85,332.12 L213.41,332.68 L211.97,333.24 L210.53,333.80 L209.09,334.35 L207.65,334.91 L206.21,335.47 L204.77,336.03 L203.33,336.59 L201.89,337.14 L200.45,337.70 L199.01,338.26 L197.57,338.82 L196.13,339.38 L194.69,339.93 L193.25,340.49 L191.81,341.05 L190.37,341.61 L188.93,342.16 L187.49,342.72 L186.05,343.28 L184.61,343.84 L183.17,344.40 L181.73,344.95 L180.29,345.51 L178.85,346.07 L177.41,346.63 L175.97,347.19 L174.53,347.74 L173.09,348.30 L171.65,348.86 L170.21,349.42 L168.77,349.97 L167.33,350.53 L165.89,351.09 L164.45,351.65 L163.01,352.21 L161.57,352.76 L160.13,353.32 L158.69,353.88 L157.25,354.44 L155.81,355.00 L154.37,355.55 L152.93,356.11 L151.49,356.67 L150.05,357.23 L148.61,357.78 L147.17,358.34 L145.73,358.90 L144.29,359.46 L142.85,360.02 L141.41,360.57 L139.97,361.13 L138.53,361.69 L137.09,362.25 L135.65,362.81 L134.21,363.36 L132.77,363.92 L131.33,364.48 L129.89,365.04 L128.45,365.59 L127.01,366.15 L125.57,366.71 L124.13,367.27 L122.69,367.83 L121.25,368.38 L119.81,368.94 L118.37,369.50 L116.93,370.06 L115.49,370.62 L114.05,371.17 L112.61,371.73 L111.17,372.29 L109.73,372.85 L108.29,373.40 L108.10,373.48" fill="none" stroke="#f0820f" stroke-width="2.45" stroke-linejoin="round" stroke-linecap="square"/>
<path d="M108.10,42.85 L110.47,42.91 L112.84,42.98 L115.19,43.05 L117.52,43.11 L119.85,43.18 L122.16,43.25 L124.46,43.32 L126.75,43.38 L129.03,43.45 L131.29,43.52 L133.54,43.58 L135.79,43.65 L138.01,43.72 L140.23,43.79 L142.44,43.85 L144.63,43.92 L146.81,43.99 L148.98,44.05 L151.14,44.12 L153.29,44.19 L155.42,44.25 L157.55,44.32 L159.66,44.39 L161.77,44.46 L163.86,44.52 L165.94,44.59 L168.01,44.66 L170.06,44.72 L172.11,44.79 L174.15,44.86 L176.17,44.93 L178.19,44.99 L180.19,45.06 L182.18,45.13 L184.17,45.19 L186.14,45.26 L188.10,45.33 L190.05,45.39 L191.99,45.46 L193.92,45.53 L195.84,45.60 L197.75,45.66 L199.65,45.73 L201.54,45.80 L203.42,45.86 L205.29,45.93 L207.14,46.00 L208.99,46.07 L210.83,46.13 L212.66,46.20 L214.48,46.27 L216.29,46.33 L218.09,46.40 L219.88,46.47 L221.66,46.53 L223.43,46.60 L225.19,46.67 L226.94,46.74 L228.69,46.80 L230.42,46.87 L232.14,46.94 L233.86,47.00 L235.56,47.07 L237.26,47.14 L238.95,47.21 L240.62,47.27 L242.29,47.34 L243.95,47.41 L245.60,47.47 L247.24,47.54 L248.88,47.61 L250.50,47.67 L252.12,47.74 L253.72,47.81 L255.32,47.88 L256.91,47.94 L258.49,48.01 L260.06,48.08 L261.62,48.14 L263.18,48.21 L264.72,48.28 L266.26,48.35 L267.79,48.41 L269.31,48.48 L270.82,48.55 L272.33,48.61 L274.57,48.71 L276.79,48.82 L279.00,48.92 L281.18,49.02 L283.35,49.12 L285.50,49.22 L287.63,49.32 L289.75,49.42 L291.85,49.52 L293.93,49.62 L295.99,49.72 L298.04,49.82 L300.06,49.92 L302.08,50.02 L304.07,50.12 L306.05,50.22 L308.01,50.32 L309.96,50.42 L311.89,50.53 L313.80,50.63 L315.70,50.73 L317.58,50.83 L319.45,50.93 L321.30,51.03 L323.14,51.13 L324.96,51.23 L326.76,51.33 L328.55,51.43 L330.32,51.53 L332.08,51.63 L333.83,51.73 L335.56,51.83 L337.27,51.93 L338.97,52.03 L340.66,52.13 L342.33,52.24 L343.99,52.34 L345.63,52.44 L347.26,52.54 L348.88,52.64 L350.48,52.74 L352.07,52.84 L353.64,52.94 L355.20,53.04 L356.75,53.14 L358.29,53.24 L359.81,53.34 L361.32,53.44 L363.31,53.58 L365.28,53.71 L367.22,53.85 L369.14,53.98 L371.04,54.11 L372.92,54.25 L374.78,54.38 L376.62,54.52 L378.43,54.65 L380.22,54.78 L381.99,54.92 L383.75,55.05 L385.48,55.19 L387.19,55.32 L388.88,55.45 L390.55,55.59 L392.20,55.72 L393.83,55.86 L395.44,55.99 L397.03,56.13 L398.61,56.26 L400.16,56.39 L401.70,56.53 L403.21,56.66 L404.71,56.80 L406.56,56.96 L408.38,57.13 L410.18,57.30 L411.94,57.47 L413.68,57.63 L415.40,57.80 L417.08,57.97 L418.74,58.14 L420.38,58.30 L421.99,58.47 L423.57,58.64 L425.13,58.81 L426.67,58.98 L428.18,59.14 L429.96,59.34 L431.71,59.55 L433.43,59.75 L435.11,59.95 L436.76,60.15 L438.38,60.35 L439.97,60.55 L441.53,60.75 L443.05,60.95 L444.55,61.16 L446.26,61.39 L447.93,61.62 L449.56,61.86 L451.15,62.09 L452.71,62.33 L454.22,62.56 L455.71,62.80 L457.35,63.07 L458.96,63.33 L460.52,63.60 L462.03,63.87 L463.69,64.17 L465.29,64.48 L466.84,64.78 L468.33,65.08 L469.94,65.41 L471.48,65.75 L472.97,66.08 L474.54,66.45 L476.04,66.82 L477.61,67.22 L479.09,67.63 L480.62,68.06 L482.07,68.50 L483.54,68.97 L485.01,69.47 L486.47,70.01 L487.90,70.58 L489.28,71.18 L490.67,71.85 L492.03,72.59 L493.31,73.39 L494.52,74.30 L495.64,75.34 L496.58,76.55 L497.24,77.92 L497.50,79.40 L497.33,80.91 L496.81,82.35 L496.05,83.66 L495.14,84.86 L494.11,86.00 L493.00,87.08 L491.85,88.08 L490.68,89.02 L489.47,89.93 L488.24,90.80 L486.99,91.64 L485.69,92.48 L484.40,93.28 L483.06,94.09 L481.73,94.86 L480.37,95.63 L479.04,96.37 L477.67,97.10 L476.35,97.81 L474.99,98.51 L473.62,99.22 L472.22,99.92 L470.87,100.59 L469.50,101.26 L468.11,101.93 L466.70,102.60 L465.28,103.27 L463.92,103.91 L462.55,104.55 L461.16,105.18 L459.76,105.82 L458.35,106.46 L456.93,107.10 L455.50,107.73 L454.06,108.37 L452.68,108.97 L451.30,109.58 L449.91,110.18 L448.51,110.78 L447.11,111.39 L445.70,111.99 L444.28,112.60 L442.86,113.20 L441.43,113.80 L440.00,114.41 L438.56,115.01 L437.11,115.61 L435.66,116.22 L434.21,116.82 L432.75,117.42 L431.29,118.03 L429.82,118.63 L428.43,119.20 L427.04,119.77 L425.64,120.34 L424.24,120.91 L422.84,121.48 L421.43,122.05 L420.03,122.62 L418.62,123.19 L417.20,123.76 L415.79,124.33 L414.37,124.90 L412.95,125.47 L411.53,126.04 L410.11,126.61 L408.68,127.18 L407.25,127.75 L405.82,128.32 L404.39,128.89 L402.96,129.46 L401.52,130.03 L400.09,130.60 L398.65,131.17 L397.21,131.74 L395.77,132.31 L394.33,132.88 L392.89,133.45 L391.44,134.02 L390.00,134.59 L388.55,135.16 L387.11,135.73 L385.66,136.30 L384.21,136.87 L382.76,137.44 L381.31,138.01 L379.86,138.58 L378.40,139.15 L376.95,139.72 L375.50,140.29 L374.04,140.86 L372.59,141.43 L371.13,142.00 L369.67,142.57 L368.22,143.14 L366.76,143.71 L365.30,144.28 L363.84,144.85 L362.38,145.42 L360.92,145.99 L359.46,146.56 L358.00,147.13 L356.54,147.70 L355.08,148.27 L353.62,148.85 L352.15,149.42 L350.69,149.99 L349.23,150.56 L347.76,151.13 L346.30,151.70 L344.84,152.27 L343.37,152.84 L341.91,153.41 L340.44,153.98 L338.98,154.55 L337.51,155.12 L336.04,155.69 L334.58,156.26 L333.11,156.83 L331.65,157.40 L330.18,157.97 L328.71,158.54 L327.25,159.11 L325.78,159.68 L324.31,160.25 L322.84,160.82 L321.38,161.39 L319.91,161.96 L318.44,162.53 L316.97,163.10 L315.50,163.67 L314.03,164.24 L312.57,164.81 L311.10,165.38 L309.63,165.95 L308.16,166.52 L306.69,167.09 L305.22,167.66 L303.75,168.23 L302.28,168.80 L300.81,169.37 L299.34,169.94 L297.87,170.51 L296.40,171.08 L294.93,171.65 L293.47,172.22 L292.00,172.79 L290.53,173.36 L289.06,173.93 L287.59,174.50 L286.12,175.07 L284.65,175.64 L283.17,176.21 L281.70,176.78 L280.23,177.35 L278.76,177.92 L277.29,178.49 L275.82,179.06 L274.35,179.63 L272.88,180.20 L271.41,180.77 L269.94,181.34 L268.47,181.91 L267.00,182.48 L265.53,183.05 L264.06,183.62 L262.59,184.19 L261.12,184.76 L259.65,185.33 L258.17,185.90 L256.70,186.47 L255.23,187.04 L253.76,187.61 L252.29,188.18 L250.82,188.75 L249.35,189.32 L247.88,189.89 L246.41,190.46 L244.94,191.03 L243.47,191.60 L241.99,192.17 L240.52,192.74 L239.05,193.31 L237.58,193.88 L236.11,194.45 L234.64,195.02 L233.17,195.59 L231.70,196.16 L230.23,196.73 L228.75,197.30 L227.28,197.87 L225.81,198.44 L224.34,199.01 L222.87,199.58 L221.40,200.15 L219.93,200.72 L218.46,201.29 L216.98,201.86 L215.51,202.43 L214.04,203.00 L212.57,203.57 L211.10,204.14 L209.63,204.71 L208.16,205.28 L206.68,205.85 L205.21,206.42 L203.74,206.99 L202.27,207.56 L200.80,208.13 L199.33,208.70 L197.86,209.27 L196.39,209.84 L194.91,210.41 L193.44,210.98 L191.97,211.55 L190.50,212.12 L189.03,212.69 L187.56,213.26 L186.09,213.83 L184.61,214.40 L183.14,214.97 L181.67,215.54 L180.20,216.11 L178.73,216.68 L177.26,217.25 L175.79,217.82 L174.31,218.39 L172.84,218.96 L171.37,219.53 L169.90,220.10 L168.43,220.67 L166.96,221.24 L165.49,221.81 L164.01,222.38 L162.54,222.95 L161.07,223.52 L159.60,224.09 L158.13,224.66 L156.66,225.23 L155.19,225.80 L153.71,226.37 L152.24,226.94 L150.77,227.51 L149.30,228.08 L147.83,228.65 L146.36,229.22 L144.89,229.79 L143.41,230.36 L141.94,230.93 L140.47,231.50 L139.00,232.07 L137.53,232.64 L136.06,233.21 L134.59,233.79 L133.11,234.36 L131.64,234.93 L130.17,235.50 L128.70,236.07 L127.23,236.64 L125.76,237.21 L124.29,237.78 L122.81,238.35 L121.34,238.92 L119.87,239.49 L118.40,240.06 L116.93,240.63 L115.46,241.20 L113.99,241.77 L112.51,242.34 L111.04,242.91 L109.57,243.48 L108.10,244.05" fill="none" stroke="#e0cb0c" stroke-width="2.45" stroke-linejoin="round" stroke-linecap="square"/>
<path d="M108.10,35.22 L110.41,35.29 L112.70,35.35 L114.99,35.42 L117.26,35.49 L119.52,35.55 L121.76,35.62 L124.00,35.68 L126.22,35.75 L128.43,35.81 L130.64,35.88 L132.82,35.94 L135.00,36.01 L137.17,36.08 L139.32,36.14 L141.47,36.21 L143.60,36.27 L145.72,36.34 L147.83,36.40 L149.93,36.47 L152.01,36.53 L154.09,36.60 L156.15,36.66 L158.21,36.73 L160.25,36.80 L162.29,36.86 L164.31,36.93 L166.32,36.99 L168.32,37.06 L170.31,37.12 L172.29,37.19 L174.26,37.25 L176.22,37.32 L178.16,37.38 L180.10,37.45 L182.03,37.52 L183.95,37.58 L185.85,37.65 L187.75,37.71 L189.64,37.78 L191.51,37.84 L193.38,37.91 L195.24,37.97 L197.09,38.04 L198.92,38.10 L200.75,38.17 L202.57,38.24 L204.37,38.30 L206.17,38.37 L207.96,38.43 L209.74,38.50 L211.51,38.56 L213.27,38.63 L215.02,38.69 L216.76,38.76 L218.49,38.82 L220.22,38.89 L221.93,38.96 L223.63,39.02 L225.33,39.09 L227.02,39.15 L228.69,39.22 L230.36,39.28 L232.02,39.35 L233.67,39.41 L235.31,39.48 L236.94,39.54 L238.57,39.61 L240.18,39.68 L241.79,39.74 L243.38,39.81 L244.97,39.87 L246.55,39.94 L248.12,40.00 L249.69,40.07 L251.24,40.13 L252.79,40.20 L254.33,40.26 L255.85,40.33 L257.38,40.40 L258.89,40.46 L260.39,40.53 L262.64,40.62 L264.86,40.72 L267.06,40.82 L269.25,40.92 L271.42,41.02 L273.57,41.12 L275.71,41.21 L277.82,41.31 L279.92,41.41 L282.00,41.51 L284.07,41.61 L286.12,41.71 L288.15,41.80 L290.16,41.90 L292.16,42.00 L294.14,42.10 L296.11,42.20 L298.06,42.29 L299.99,42.39 L301.91,42.49 L303.81,42.59 L305.69,42.69 L307.56,42.79 L309.42,42.88 L311.25,42.98 L313.08,43.08 L314.88,43.18 L316.68,43.28 L318.46,43.37 L320.22,43.47 L321.97,43.57 L323.70,43.67 L325.42,43.77 L327.12,43.87 L328.81,43.96 L330.49,44.06 L332.15,44.16 L333.80,44.26 L335.43,44.36 L337.05,44.45 L338.66,44.55 L340.25,44.65 L341.83,44.75 L343.40,44.85 L344.95,44.95 L346.49,45.04 L348.02,45.14 L349.53,45.24 L351.03,45.34 L353.01,45.47 L354.97,45.60 L356.91,45.73 L358.82,45.86 L360.71,45.99 L362.58,46.12 L364.43,46.26 L366.26,46.39 L368.06,46.52 L369.85,46.65 L371.61,46.78 L373.35,46.91 L375.08,47.04 L376.78,47.17 L378.46,47.30 L380.13,47.43 L381.77,47.56 L383.40,47.70 L385.00,47.83 L386.59,47.96 L388.16,48.09 L389.71,48.22 L391.24,48.35 L392.75,48.48 L394.25,48.61 L396.09,48.78 L397.91,48.94 L399.69,49.10 L401.46,49.27 L403.19,49.43 L404.90,49.59 L406.58,49.76 L408.24,49.92 L409.87,50.08 L411.48,50.25 L413.06,50.41 L414.62,50.58 L416.15,50.74 L417.66,50.90 L419.45,51.10 L421.19,51.30 L422.91,51.49 L424.59,51.69 L426.24,51.89 L427.86,52.08 L429.45,52.28 L431.01,52.47 L432.53,52.67 L434.03,52.87 L435.74,53.10 L437.41,53.33 L439.05,53.55 L440.64,53.78 L442.20,54.01 L443.72,54.24 L445.21,54.47 L446.86,54.73 L448.47,54.99 L450.04,55.26 L451.56,55.52 L453.04,55.78 L454.65,56.07 L456.21,56.37 L457.72,56.66 L459.35,56.99 L460.91,57.32 L462.41,57.65 L464.00,58.01 L465.52,58.37 L466.98,58.73 L468.49,59.12 L470.05,59.54 L471.53,59.97 L473.03,60.43 L474.54,60.92 L476.04,61.44 L477.51,62.00 L478.94,62.59 L480.31,63.21 L481.67,63.90 L482.97,64.65 L484.24,65.50 L485.43,66.48 L486.47,67.60 L487.27,68.87 L487.73,70.31 L487.76,71.82 L487.38,73.29 L486.70,74.67 L485.85,75.91 L484.88,77.06 L483.81,78.14 L482.69,79.15 L481.50,80.13 L480.30,81.05 L479.07,81.93 L477.82,82.78 L476.52,83.64 L475.21,84.45 L473.91,85.24 L472.57,86.03 L471.25,86.78 L469.89,87.53 L468.56,88.25 L467.21,88.97 L465.83,89.69 L464.49,90.38 L463.12,91.07 L461.74,91.75 L460.33,92.44 L458.98,93.10 L457.61,93.75 L456.22,94.40 L454.82,95.06 L453.41,95.71 L451.98,96.37 L450.61,96.99 L449.24,97.61 L447.85,98.23 L446.45,98.86 L445.04,99.48 L443.62,100.10 L442.20,100.72 L440.76,101.34 L439.32,101.97 L437.87,102.59 L436.42,103.21 L435.03,103.80 L433.64,104.39 L432.24,104.98 L430.84,105.57 L429.43,106.16 L428.02,106.75 L426.61,107.33 L425.18,107.92 L423.76,108.51 L422.33,109.10 L420.89,109.69 L419.46,110.28 L418.02,110.87 L416.57,111.46 L415.12,112.05 L413.67,112.64 L412.22,113.23 L410.76,113.82 L409.30,114.40 L407.84,114.99 L406.37,115.58 L404.91,116.17 L403.44,116.76 L401.97,117.35 L400.49,117.94 L399.10,118.50 L397.70,119.05 L396.31,119.61 L394.91,120.17 L393.51,120.72 L392.10,121.28 L390.70,121.84 L389.30,122.39 L387.89,122.95 L386.48,123.50 L385.08,124.06 L383.67,124.62 L382.26,125.17 L380.84,125.73 L379.43,126.29 L378.02,126.84 L376.60,127.40 L375.19,127.96 L373.77,128.51 L372.35,129.07 L370.94,129.63 L369.52,130.18 L368.10,130.74 L366.68,131.29 L365.26,131.85 L363.84,132.41 L362.42,132.96 L360.99,133.52 L359.57,134.08 L358.15,134.63 L356.72,135.19 L355.30,135.75 L353.87,136.30 L352.45,136.86 L351.02,137.42 L349.59,137.97 L348.17,138.53 L346.74,139.09 L345.31,139.64 L343.88,140.20 L342.46,140.75 L341.03,141.31 L339.60,141.87 L338.17,142.42 L336.74,142.98 L335.31,143.54 L333.88,144.09 L332.45,144.65 L331.02,145.21 L329.59,145.76 L328.16,146.32 L326.73,146.88 L325.29,147.43 L323.86,147.99 L322.43,148.55 L321.00,149.10 L319.57,149.66 L318.13,150.21 L316.70,150.77 L315.27,151.33 L313.84,151.88 L312.40,152.44 L310.97,153.00 L309.54,153.55 L308.10,154.11 L306.67,154.67 L305.24,155.22 L303.80,155.78 L302.37,156.34 L300.93,156.89 L299.50,157.45 L298.07,158.00 L296.63,158.56 L295.20,159.12 L293.76,159.67 L292.33,160.23 L290.89,160.79 L289.46,161.34 L288.03,161.90 L286.59,162.46 L285.16,163.01 L283.72,163.57 L282.29,164.13 L280.85,164.68 L279.42,165.24 L277.98,165.80 L276.55,166.35 L275.11,166.91 L273.68,167.46 L272.24,168.02 L270.80,168.58 L269.37,169.13 L267.93,169.69 L266.50,170.25 L265.06,170.80 L263.63,171.36 L262.19,171.92 L260.76,172.47 L259.32,173.03 L257.89,173.59 L256.45,174.14 L255.01,174.70 L253.58,175.26 L252.14,175.81 L250.71,176.37 L249.27,176.92 L247.83,177.48 L246.40,178.04 L244.96,178.59 L243.53,179.15 L242.09,179.71 L240.66,180.26 L239.22,180.82 L237.78,181.38 L236.35,181.93 L234.91,182.49 L233.48,183.05 L232.04,183.60 L230.60,184.16 L229.17,184.71 L227.73,185.27 L226.30,185.83 L224.86,186.38 L223.42,186.94 L221.99,187.50 L220.55,188.05 L219.12,188.61 L217.68,189.17 L216.24,189.72 L214.81,190.28 L213.37,190.84 L211.93,191.39 L210.50,191.95 L209.06,192.51 L207.63,193.06 L206.19,193.62 L204.75,194.17 L203.32,194.73 L201.88,195.29 L200.44,195.84 L199.01,196.40 L197.57,196.96 L196.14,197.51 L194.70,198.07 L193.26,198.63 L191.83,199.18 L190.39,199.74 L188.96,200.30 L187.52,200.85 L186.08,201.41 L184.65,201.96 L183.21,202.52 L181.77,203.08 L180.34,203.63 L178.90,204.19 L177.47,204.75 L176.03,205.30 L174.59,205.86 L173.16,206.42 L171.72,206.97 L170.28,207.53 L168.85,208.09 L167.41,208.64 L165.97,209.20 L164.54,209.76 L163.10,210.31 L161.67,210.87 L160.23,211.42 L158.79,211.98 L157.36,212.54 L155.92,213.09 L154.48,213.65 L153.05,214.21 L151.61,214.76 L150.18,215.32 L148.74,215.88 L147.30,216.43 L145.87,216.99 L144.43,217.55 L142.99,218.10 L141.56,218.66 L140.12,219.22 L138.69,219.77 L137.25,220.33 L135.81,220.88 L134.38,221.44 L132.94,222.00 L131.50,222.55 L130.07,223.11 L128.63,223.67 L127.19,224.22 L125.76,224.78 L124.32,225.34 L122.89,225.89 L121.45,226.45 L120.01,227.01 L118.58,227.56 L117.14,228.12 L115.70,228.67 L114.27,229.23 L112.83,229.79 L111.40,230.34 L109.96,230.90 L108.52,231.46 L108.10,231.62" fill="none" stroke="#149bd1" stroke-width="2.45" stroke-linejoin="round" stroke-linecap="square"/>
<path d="M115.05,71.95 L117.74,72.00 L120.41,72.05 L123.08,72.10 L125.73,72.15 L128.38,72.19 L131.01,72.24 L133.64,72.29 L136.25,72.34 L138.86,72.39 L141.45,72.44 L144.04,72.49 L146.61,72.54 L149.18,72.59 L151.73,72.64 L154.28,72.69 L156.81,72.74 L159.34,72.79 L161.85,72.84 L164.36,72.89 L166.86,72.94 L169.35,72.99 L171.82,73.04 L174.29,73.09 L176.75,73.14 L179.20,73.19 L181.64,73.24 L184.07,73.29 L186.49,73.34 L188.91,73.39 L191.31,73.44 L193.70,73.49 L196.09,73.54 L198.46,73.59 L200.83,73.64 L203.18,73.69 L205.53,73.74 L207.87,73.79 L210.20,73.84 L212.52,73.89 L214.83,73.94 L217.14,73.99 L219.43,74.04 L221.72,74.09 L223.99,74.14 L226.26,74.19 L228.52,74.24 L230.77,74.29 L233.01,74.34 L235.25,74.39 L237.47,74.44 L239.69,74.49 L241.89,74.54 L244.09,74.59 L246.28,74.64 L248.46,74.69 L250.64,74.74 L252.80,74.79 L254.96,74.84 L257.11,74.89 L259.25,74.94 L261.38,74.99 L263.50,75.04 L265.62,75.08 L267.73,75.13 L269.82,75.18 L271.92,75.23 L274.00,75.28 L276.07,75.33 L278.14,75.38 L280.20,75.43 L282.25,75.48 L284.29,75.53 L286.33,75.58 L288.35,75.63 L290.37,75.68 L292.38,75.73 L294.39,75.78 L296.38,75.83 L298.37,75.88 L300.35,75.93 L302.32,75.98 L304.29,76.03 L306.25,76.08 L308.20,76.13 L310.14,76.18 L312.07,76.23 L314.00,76.28 L315.92,76.33 L317.83,76.38 L319.73,76.43 L321.63,76.48 L323.52,76.53 L325.40,76.58 L327.28,76.63 L329.15,76.68 L331.01,76.73 L332.86,76.78 L334.71,76.83 L336.54,76.88 L338.38,76.93 L340.20,76.98 L342.02,77.03 L343.83,77.08 L345.63,77.13 L347.43,77.18 L349.22,77.23 L351.00,77.28 L352.77,77.33 L354.54,77.38 L356.30,77.43 L358.06,77.48 L359.80,77.53 L361.55,77.58 L363.28,77.63 L365.01,77.68 L366.73,77.73 L368.44,77.78 L370.15,77.83 L371.85,77.88 L373.54,77.92 L375.23,77.97 L376.91,78.02 L378.58,78.07 L380.25,78.12 L381.91,78.17 L383.56,78.22 L385.21,78.27 L386.85,78.32 L388.48,78.37 L390.11,78.42 L391.73,78.47 L393.35,78.52 L394.96,78.57 L396.56,78.62 L398.16,78.67 L399.75,78.72 L401.33,78.77 L402.91,78.82 L404.48,78.87 L406.04,78.92 L407.60,78.97 L409.16,79.02 L410.70,79.07 L412.24,79.12 L413.78,79.17 L415.31,79.22 L416.83,79.27 L418.34,79.32 L419.85,79.37 L421.36,79.42 L424.35,79.52 L427.32,79.62 L430.26,79.72 L433.18,79.82 L436.08,79.92 L438.95,80.02 L441.80,80.12 L444.63,80.22 L447.44,80.32 L450.22,80.42 L452.98,80.52 L455.72,80.62 L458.44,80.72 L461.14,80.81 L463.81,80.91 L466.47,81.01 L469.10,81.11 L471.71,81.21 L474.30,81.31 L476.87,81.41 L479.42,81.51 L481.95,81.61 L484.46,81.71 L486.94,81.81 L489.41,81.91 L491.86,82.01 L494.29,82.11 L496.70,82.21 L499.09,82.31 L501.46,82.41 L503.81,82.51 L506.14,82.61 L508.46,82.71 L510.75,82.81 L513.03,82.91 L515.28,83.01 L517.52,83.11 L519.74,83.21 L521.95,83.31 L524.13,83.41 L526.30,83.51 L528.45,83.61 L530.58,83.70 L532.70,83.80 L534.80,83.90 L536.88,84.00 L538.94,84.10 L540.99,84.20 L543.02,84.30 L545.03,84.40 L547.03,84.50 L549.01,84.60 L550.97,84.70 L552.92,84.80 L554.85,84.90 L556.76,85.00 L558.66,85.10 L560.55,85.20 L562.42,85.30 L564.27,85.40 L566.11,85.50 L567.93,85.60 L569.74,85.70 L571.53,85.80 L573.31,85.90 L575.07,86.00 L576.82,86.10 L578.55,86.20 L580.27,86.30 L581.97,86.40 L583.66,86.50 L585.34,86.59 L587.00,86.69 L588.65,86.79 L590.28,86.89 L591.90,86.99 L593.51,87.09 L595.10,87.19 L596.68,87.29 L598.25,87.39 L599.80,87.49 L601.34,87.59 L602.87,87.69 L604.38,87.79 L605.88,87.89 L608.11,88.04 L610.31,88.19 L612.48,88.34 L614.62,88.49 L616.74,88.64 L618.83,88.79 L620.89,88.94 L622.92,89.09 L624.93,89.24 L626.91,89.39 L628.87,89.53 L630.80,89.68 L632.70,89.83 L634.58,89.98 L636.44,90.13 L638.27,90.28 L640.07,90.43 L641.86,90.58 L643.62,90.73 L645.35,90.88 L647.07,91.03 L648.76,91.18 L650.42,91.33 L652.07,91.48 L653.69,91.63 L655.29,91.78 L656.87,91.93 L658.43,92.08 L659.96,92.23 L661.48,92.37 L662.98,92.52 L664.94,92.72 L666.86,92.92 L668.75,93.12 L670.61,93.32 L672.43,93.52 L674.21,93.72 L675.97,93.92 L677.69,94.12 L679.38,94.32 L681.03,94.52 L682.66,94.72 L684.25,94.92 L685.81,95.12 L687.35,95.31 L688.85,95.51 L690.69,95.76 L692.48,96.01 L694.23,96.26 L695.94,96.51 L697.60,96.76 L699.22,97.01 L700.80,97.26 L702.34,97.51 L703.84,97.76 L705.59,98.05 L707.29,98.35 L708.93,98.65 L710.52,98.95 L712.05,99.25 L713.54,99.55 L715.22,99.90 L716.82,100.25 L718.37,100.60 L719.85,100.94 L721.48,101.34 L723.02,101.74 L724.49,102.14 L726.06,102.59 L727.54,103.04 L729.09,103.54 L730.53,104.03 L732.01,104.58 L733.49,105.18 L734.95,105.83 L736.35,106.53 L737.68,107.27 L738.98,108.12 L740.19,109.07 L741.27,110.16 L742.14,111.41 L742.70,112.80 L742.84,114.30 L742.57,115.79 L741.99,117.19 L741.18,118.48" fill="none" stroke="#000000" stroke-width="2.3" stroke-dasharray="4.45 4.473" stroke-dashoffset="0.00"/>
<path d="M741.18,118.48 L740.22,119.68 L739.19,120.78 L738.08,121.82 L736.91,122.82 L735.71,123.77 L734.49,124.66 L733.21,125.56 L731.93,126.41 L730.60,127.25 L729.30,128.05 L727.96,128.85 L726.58,129.65 L725.25,130.39 L723.88,131.14 L722.49,131.89 L721.07,132.63 L719.72,133.33 L718.34,134.03 L716.95,134.73 L715.53,135.42 L714.10,136.12 L712.65,136.82 L711.28,137.47 L709.90,138.12 L708.51,138.76 L707.11,139.41 L705.69,140.06 L704.26,140.71 L702.82,141.35 L701.37,142.00 L699.91,142.65 L698.43,143.30 L696.95,143.95 L695.46,144.59 L694.08,145.19 L692.69,145.79 L691.30,146.39 L689.89,146.98 L688.48,147.58 L687.07,148.18 L685.65,148.78 L684.23,149.38 L682.80,149.97 L681.36,150.57 L679.92,151.17 L678.48,151.77 L677.03,152.37 L675.58,152.96 L674.12,153.56 L672.66,154.16 L671.20,154.76 L669.73,155.36 L668.26,155.95 L666.78,156.55 L665.31,157.15 L663.83,157.75 L662.35,158.35 L660.86,158.94 L659.37,159.54 L657.89,160.14 L656.39,160.74 L654.90,161.33 L653.40,161.93 L651.90,162.53 L650.40,163.13 L648.90,163.73 L647.40,164.32 L645.89,164.92 L644.39,165.52 L642.88,166.12 L641.37,166.72 L639.86,167.31 L638.34,167.91 L636.83,168.51 L635.31,169.11 L633.80,169.71 L632.28,170.30 L630.76,170.90 L629.24,171.50 L627.72,172.10 L626.20,172.70 L624.67,173.29 L623.28,173.84 L621.88,174.39 L620.48,174.94 L619.08,175.49 L617.68,176.03 L616.28,176.58 L614.88,177.13 L613.48,177.68 L612.08,178.23 L610.68,178.77 L609.27,179.32 L607.87,179.87 L606.47,180.42 L605.06,180.97 L603.66,181.51 L602.25,182.06 L600.85,182.61 L599.44,183.16 L598.04,183.71 L596.63,184.26 L595.22,184.80 L593.82,185.35 L592.41,185.90 L591.00,186.45 L589.59,187.00 L588.19,187.54 L586.78,188.09 L585.37,188.64 L583.96,189.19 L582.55,189.74 L581.14,190.28 L579.73,190.83 L578.32,191.38 L576.91,191.93 L575.50,192.48 L574.09,193.02 L572.68,193.57 L571.27,194.12 L569.86,194.67 L568.45,195.22 L567.04,195.77 L565.63,196.31 L564.21,196.86 L562.80,197.41 L561.39,197.96 L559.98,198.51 L558.57,199.05 L557.16,199.60 L555.74,200.15 L554.33,200.70 L552.92,201.25 L551.51,201.79 L550.09,202.34 L548.68,202.89 L547.27,203.44 L545.86,203.99 L544.44,204.53 L543.03,205.08 L541.62,205.63 L540.20,206.18 L538.79,206.73 L537.38,207.28 L535.96,207.82 L534.55,208.37 L533.14,208.92 L531.72,209.47 L530.31,210.02 L528.90,210.56 L527.48,211.11 L526.07,211.66 L524.66,212.21 L523.24,212.76 L521.83,213.30 L520.42,213.85 L519.00,214.40 L517.59,214.95 L516.17,215.50 L514.76,216.04 L513.35,216.59 L511.93,217.14 L510.52,217.69 L509.10,218.24 L507.69,218.79 L506.28,219.33 L504.86,219.88 L503.45,220.43 L502.03,220.98 L500.62,221.53 L499.20,222.07 L497.79,222.62 L496.38,223.17 L494.96,223.72 L493.55,224.27 L492.13,224.81 L490.72,225.36 L489.30,225.91 L487.89,226.46 L486.48,227.01 L485.06,227.55 L483.65,228.10 L482.23,228.65 L480.82,229.20 L479.40,229.75 L477.99,230.30 L476.58,230.84 L475.16,231.39 L473.75,231.94 L472.33,232.49 L470.92,233.04 L469.50,233.58 L468.09,234.13 L466.67,234.68 L465.26,235.23 L463.84,235.78 L462.43,236.32 L461.02,236.87 L459.60,237.42 L458.19,237.97 L456.77,238.52 L455.36,239.06 L453.94,239.61 L452.53,240.16 L451.11,240.71 L449.70,241.26 L448.28,241.81 L446.87,242.35 L445.45,242.90 L444.04,243.45 L442.63,244.00 L441.21,244.55 L439.80,245.09 L438.38,245.64 L436.97,246.19 L435.55,246.74 L434.14,247.29 L432.72,247.83 L431.31,248.38 L429.89,248.93 L428.48,249.48 L427.06,250.03 L425.65,250.57 L424.23,251.12 L422.82,251.67 L421.41,252.22 L419.99,252.77 L418.58,253.32 L417.16,253.86 L415.75,254.41 L414.33,254.96 L412.92,255.51 L411.50,256.06 L410.09,256.60 L408.67,257.15 L407.26,257.70 L405.84,258.25 L404.43,258.80 L403.01,259.34 L401.60,259.89 L400.18,260.44 L398.77,260.99 L397.36,261.54 L395.94,262.08 L394.53,262.63 L393.11,263.18 L391.70,263.73 L390.28,264.28 L388.87,264.82 L387.45,265.37 L386.04,265.92 L384.62,266.47 L383.21,267.02 L381.79,267.57 L380.38,268.11 L378.96,268.66 L377.55,269.21 L376.13,269.76 L374.72,270.31 L373.31,270.85 L371.89,271.40 L370.48,271.95 L369.06,272.50 L367.65,273.05 L366.23,273.59 L364.82,274.14 L363.40,274.69 L361.99,275.24 L360.57,275.79 L359.16,276.33 L357.74,276.88 L356.33,277.43 L354.91,277.98 L353.50,278.53 L352.08,279.08 L350.67,279.62 L349.25,280.17 L347.84,280.72 L346.43,281.27 L345.01,281.82 L343.60,282.36 L342.18,282.91 L340.77,283.46 L339.35,284.01 L337.94,284.56 L336.52,285.10 L335.11,285.65 L333.69,286.20 L332.28,286.75 L330.86,287.30 L329.45,287.84 L328.03,288.39 L326.62,288.94 L325.20,289.49 L323.79,290.04 L322.37,290.59 L320.96,291.13 L319.54,291.68 L318.13,292.23 L316.72,292.78 L315.30,293.33 L313.89,293.87 L312.47,294.42 L311.06,294.97 L309.64,295.52 L308.23,296.07 L306.81,296.61 L305.40,297.16 L303.98,297.71 L302.57,298.26 L301.15,298.81 L299.74,299.35 L298.32,299.90 L296.91,300.45 L295.49,301.00 L294.08,301.55 L292.66,302.10 L291.25,302.64 L289.84,303.19 L288.42,303.74 L287.01,304.29 L285.59,304.84 L284.18,305.38 L282.76,305.93 L281.35,306.48 L279.93,307.03 L278.52,307.58 L277.10,308.12 L275.69,308.67 L274.27,309.22 L272.86,309.77 L271.44,310.32 L270.03,310.86 L268.61,311.41 L267.20,311.96 L265.78,312.51 L264.37,313.06 L262.96,313.61 L261.54,314.15 L260.13,314.70 L258.71,315.25 L257.30,315.80 L255.88,316.35 L254.47,316.89 L253.05,317.44 L251.64,317.99 L250.22,318.54 L248.81,319.09 L247.39,319.63 L245.98,320.18 L244.56,320.73 L243.15,321.28 L241.73,321.83 L240.32,322.37 L238.90,322.92 L237.49,323.47 L236.08,324.02 L234.66,324.57 L233.25,325.12 L231.83,325.66 L230.42,326.21 L229.00,326.76 L227.59,327.31 L226.17,327.86 L224.76,328.40 L223.34,328.95 L221.93,329.50 L220.51,330.05 L219.10,330.60 L217.68,331.14 L216.27,331.69 L214.85,332.24 L213.44,332.79 L212.02,333.34 L210.61,333.88 L209.19,334.43 L207.78,334.98 L206.37,335.53 L204.95,336.08 L203.54,336.63 L202.12,337.17 L200.71,337.72 L199.29,338.27 L197.88,338.82 L196.46,339.37 L195.05,339.91 L193.63,340.46 L192.22,341.01 L190.80,341.56 L189.39,342.11 L187.97,342.65 L186.56,343.20 L185.14,343.75 L183.73,344.30 L182.31,344.85 L180.90,345.39 L179.49,345.94 L178.07,346.49 L176.66,347.04 L175.24,347.59 L173.83,348.14 L172.41,348.68 L171.00,349.23 L169.58,349.78 L168.17,350.33 L166.75,350.88 L165.34,351.42 L163.92,351.97 L162.51,352.52 L161.09,353.07 L159.68,353.62 L158.26,354.16 L156.85,354.71 L155.43,355.26 L154.02,355.81 L152.61,356.36 L151.19,356.90 L149.78,357.45 L148.36,358.00 L146.95,358.55 L145.53,359.10 L144.12,359.65 L142.70,360.19 L141.29,360.74 L139.87,361.29 L138.46,361.84 L137.04,362.39 L135.63,362.93 L134.21,363.48 L132.80,364.03 L131.38,364.58 L129.97,365.13 L128.55,365.67 L127.14,366.22 L125.72,366.77 L124.31,367.32 L122.90,367.87 L121.48,368.41 L120.07,368.96 L118.65,369.51 L117.24,370.06 L115.82,370.61 L115.05,370.91" fill="none" stroke="#000000" stroke-width="2.3" stroke-dasharray="4.45 4.473" stroke-dashoffset="7.06"/>
<path d="M115.05,73.94 L117.48,73.98 L119.91,74.03 L122.32,74.08 L124.73,74.12 L127.13,74.17 L129.52,74.22 L131.90,74.27 L134.27,74.31 L136.63,74.36 L138.98,74.41 L141.33,74.45 L143.66,74.50 L145.99,74.55 L148.31,74.59 L150.62,74.64 L152.92,74.69 L155.22,74.74 L157.50,74.78 L159.78,74.83 L162.05,74.88 L164.31,74.92 L166.56,74.97 L168.80,75.02 L171.04,75.06 L173.26,75.11 L175.48,75.16 L177.69,75.21 L179.89,75.25 L182.09,75.30 L184.27,75.35 L186.45,75.39 L188.62,75.44 L190.78,75.49 L192.94,75.53 L195.08,75.58 L197.22,75.63 L199.35,75.68 L201.47,75.72 L203.58,75.77 L205.69,75.82 L207.79,75.86 L209.88,75.91 L211.96,75.96 L214.04,76.00 L216.10,76.05 L218.16,76.10 L220.21,76.15 L222.26,76.19 L224.30,76.24 L226.32,76.29 L228.35,76.33 L230.36,76.38 L232.37,76.43 L234.37,76.48 L236.36,76.52 L238.34,76.57 L240.32,76.62 L242.29,76.66 L244.25,76.71 L246.20,76.76 L248.15,76.80 L250.09,76.85 L252.02,76.90 L253.95,76.95 L255.87,76.99 L257.78,77.04 L259.68,77.09 L261.58,77.13 L263.47,77.18 L265.35,77.23 L267.23,77.27 L269.10,77.32 L270.96,77.37 L272.82,77.42 L274.66,77.46 L276.51,77.51 L278.34,77.56 L280.17,77.60 L281.99,77.65 L283.80,77.70 L285.61,77.74 L287.41,77.79 L289.20,77.84 L290.99,77.89 L292.77,77.93 L294.54,77.98 L296.31,78.03 L298.07,78.07 L299.82,78.12 L301.57,78.17 L303.31,78.21 L305.04,78.26 L306.77,78.31 L308.49,78.36 L310.21,78.40 L311.92,78.45 L313.62,78.50 L315.31,78.54 L317.00,78.59 L318.68,78.64 L320.36,78.68 L322.03,78.73 L323.69,78.78 L325.35,78.83 L327.00,78.87 L328.65,78.92 L330.28,78.97 L331.92,79.01 L333.54,79.06 L335.16,79.11 L336.78,79.15 L338.38,79.20 L339.99,79.25 L341.58,79.30 L343.17,79.34 L344.76,79.39 L346.33,79.44 L347.91,79.48 L349.47,79.53 L351.03,79.58 L352.59,79.62 L354.13,79.67 L355.68,79.72 L357.21,79.77 L358.74,79.81 L360.27,79.86 L361.79,79.91 L363.30,79.95 L364.81,80.00 L366.31,80.05 L369.30,80.14 L372.26,80.24 L375.20,80.33 L378.12,80.42 L381.02,80.52 L383.89,80.61 L386.75,80.71 L389.58,80.80 L392.39,80.89 L395.18,80.99 L397.94,81.08 L400.69,81.18 L403.42,81.27 L406.12,81.36 L408.80,81.46 L411.47,81.55 L414.11,81.65 L416.73,81.74 L419.34,81.83 L421.92,81.93 L424.48,82.02 L427.03,82.12 L429.55,82.21 L432.05,82.30 L434.54,82.40 L437.00,82.49 L439.45,82.59 L441.88,82.68 L444.29,82.77 L446.68,82.87 L449.05,82.96 L451.41,83.06 L453.74,83.15 L456.06,83.24 L458.36,83.34 L460.64,83.43 L462.91,83.53 L465.15,83.62 L467.38,83.71 L469.60,83.81 L471.79,83.90 L473.97,84.00 L476.13,84.09 L478.27,84.18 L480.40,84.28 L482.51,84.37 L484.61,84.47 L486.68,84.56 L488.75,84.65 L490.79,84.75 L492.82,84.84 L494.83,84.94 L496.83,85.03 L498.81,85.12 L500.78,85.22 L502.73,85.31 L504.67,85.41 L506.59,85.50 L508.49,85.59 L510.38,85.69 L512.26,85.78 L514.12,85.88 L515.96,85.97 L517.80,86.06 L519.61,86.16 L521.41,86.25 L523.20,86.35 L524.97,86.44 L526.73,86.53 L528.48,86.63 L530.21,86.72 L531.93,86.82 L533.63,86.91 L535.32,87.00 L537.00,87.10 L538.66,87.19 L540.31,87.29 L541.95,87.38 L543.57,87.47 L545.18,87.57 L546.78,87.66 L548.36,87.76 L549.94,87.85 L551.49,87.94 L553.04,88.04 L554.58,88.13 L556.10,88.23 L557.61,88.32 L559.85,88.46 L562.06,88.60 L564.25,88.74 L566.40,88.88 L568.54,89.02 L570.64,89.17 L572.73,89.31 L574.78,89.45 L576.81,89.59 L578.81,89.73 L580.79,89.87 L582.75,90.01 L584.68,90.15 L586.59,90.29 L588.47,90.43 L590.33,90.58 L592.17,90.72 L593.98,90.86 L595.77,91.00 L597.54,91.14 L599.28,91.28 L601.00,91.42 L602.71,91.56 L604.39,91.70 L606.04,91.84 L607.68,91.99 L609.30,92.13 L610.89,92.27 L612.47,92.41 L614.02,92.55 L615.55,92.69 L617.07,92.83 L618.56,92.97 L620.53,93.16 L622.45,93.35 L624.35,93.54 L626.21,93.72 L628.04,93.91 L629.83,94.10 L631.60,94.29 L633.33,94.48 L635.03,94.66 L636.70,94.85 L638.35,95.04 L639.96,95.23 L641.54,95.42 L643.09,95.60 L644.62,95.79 L646.11,95.98 L647.95,96.22 L649.74,96.45 L651.48,96.69 L653.19,96.92 L654.86,97.16 L656.48,97.39 L658.07,97.63 L659.62,97.86 L661.13,98.10 L662.90,98.38 L664.61,98.66 L666.28,98.94 L667.89,99.22 L669.45,99.51 L670.97,99.79 L672.68,100.12 L674.33,100.45 L675.92,100.77 L677.44,101.10 L678.91,101.43 L680.52,101.81 L682.06,102.18 L683.53,102.56 L685.11,102.98 L686.60,103.41 L688.16,103.88 L689.62,104.35 L691.13,104.86 L692.65,105.43 L694.04,105.99 L695.42,106.60 L696.85,107.31 L698.19,108.06 L699.49,108.91 L700.67,109.85 L701.74,110.93 L702.61,112.20 L703.13,113.61 L703.23,115.11" fill="none" stroke="#000000" stroke-width="2.3" stroke-dasharray="4.45 4.473" stroke-dashoffset="0.00"/>
<path d="M703.23,115.11 L702.91,116.61 L702.27,118.02 L701.43,119.29 L700.45,120.47 L699.40,121.55 L698.27,122.58 L697.09,123.57 L695.87,124.51 L694.63,125.40 L693.33,126.30 L692.04,127.14 L690.76,127.94 L689.44,128.74 L688.08,129.54 L686.76,130.29 L685.41,131.04 L684.02,131.80 L682.70,132.50 L681.35,133.21 L679.97,133.91 L678.57,134.62 L677.15,135.32 L675.71,136.03 L674.35,136.68 L672.97,137.34 L671.58,138.00 L670.17,138.66 L668.75,139.32 L667.31,139.97 L665.86,140.63 L664.40,141.29 L662.93,141.95 L661.55,142.56 L660.17,143.17 L658.77,143.78 L657.37,144.39 L655.96,145.00 L654.55,145.61 L653.12,146.23 L651.69,146.84 L650.25,147.45 L648.81,148.06 L647.36,148.67 L645.90,149.28 L644.44,149.89 L642.97,150.50 L641.50,151.11 L640.03,151.72 L638.55,152.34 L637.06,152.95 L635.57,153.56 L634.08,154.17 L632.58,154.78 L631.08,155.39 L629.58,156.00 L628.19,156.57 L626.79,157.13 L625.40,157.69 L624.00,158.26 L622.60,158.82 L621.20,159.39 L619.79,159.95 L618.38,160.51 L616.97,161.08 L615.56,161.64 L614.15,162.21 L612.73,162.77 L611.32,163.33 L609.90,163.90 L608.48,164.46 L607.06,165.03 L605.63,165.59 L604.21,166.15 L602.78,166.72 L601.36,167.28 L599.93,167.85 L598.50,168.41 L597.07,168.97 L595.64,169.54 L594.21,170.10 L592.77,170.67 L591.34,171.23 L589.90,171.79 L588.47,172.36 L587.03,172.92 L585.59,173.49 L584.16,174.05 L582.72,174.61 L581.28,175.18 L579.84,175.74 L578.40,176.31 L576.95,176.87 L575.51,177.43 L574.07,178.00 L572.63,178.56 L571.18,179.13 L569.74,179.69 L568.29,180.25 L566.85,180.82 L565.40,181.38 L563.96,181.95 L562.51,182.51 L561.06,183.07 L559.61,183.64 L558.17,184.20 L556.72,184.77 L555.27,185.33 L553.82,185.89 L552.37,186.46 L550.92,187.02 L549.47,187.59 L548.02,188.15 L546.57,188.72 L545.12,189.28 L543.67,189.84 L542.22,190.41 L540.77,190.97 L539.32,191.54 L537.87,192.10 L536.42,192.66 L534.97,193.23 L533.52,193.79 L532.06,194.36 L530.61,194.92 L529.16,195.48 L527.71,196.05 L526.25,196.61 L524.80,197.18 L523.35,197.74 L521.90,198.30 L520.44,198.87 L518.99,199.43 L517.54,200.00 L516.08,200.56 L514.63,201.12 L513.17,201.69 L511.72,202.25 L510.27,202.82 L508.81,203.38 L507.36,203.94 L505.91,204.51 L504.45,205.07 L503.00,205.64 L501.54,206.20 L500.09,206.76 L498.63,207.33 L497.18,207.89 L495.72,208.46 L494.27,209.02 L492.82,209.58 L491.36,210.15 L489.91,210.71 L488.45,211.28 L487.00,211.84 L485.54,212.40 L484.09,212.97 L482.63,213.53 L481.18,214.10 L479.72,214.66 L478.27,215.22 L476.81,215.79 L475.36,216.35 L473.90,216.92 L472.45,217.48 L470.99,218.04 L469.54,218.61 L468.08,219.17 L466.63,219.74 L465.17,220.30 L463.71,220.86 L462.26,221.43 L460.80,221.99 L459.35,222.56 L457.89,223.12 L456.44,223.68 L454.98,224.25 L453.53,224.81 L452.07,225.38 L450.62,225.94 L449.16,226.50 L447.71,227.07 L446.25,227.63 L444.79,228.20 L443.34,228.76 L441.88,229.32 L440.43,229.89 L438.97,230.45 L437.52,231.02 L436.06,231.58 L434.60,232.14 L433.15,232.71 L431.69,233.27 L430.24,233.84 L428.78,234.40 L427.33,234.96 L425.87,235.53 L424.42,236.09 L422.96,236.66 L421.50,237.22 L420.05,237.78 L418.59,238.35 L417.14,238.91 L415.68,239.48 L414.23,240.04 L412.77,240.60 L411.31,241.17 L409.86,241.73 L408.40,242.30 L406.95,242.86 L405.49,243.43 L404.04,243.99 L402.58,244.55 L401.12,245.12 L399.67,245.68 L398.21,246.25 L396.76,246.81 L395.30,247.37 L393.84,247.94 L392.39,248.50 L390.93,249.07 L389.48,249.63 L388.02,250.19 L386.57,250.76 L385.11,251.32 L383.65,251.89 L382.20,252.45 L380.74,253.01 L379.29,253.58 L377.83,254.14 L376.37,254.71 L374.92,255.27 L373.46,255.83 L372.01,256.40 L370.55,256.96 L369.10,257.53 L367.64,258.09 L366.18,258.65 L364.73,259.22 L363.27,259.78 L361.82,260.35 L360.36,260.91 L358.91,261.47 L357.45,262.04 L355.99,262.60 L354.54,263.17 L353.08,263.73 L351.63,264.29 L350.17,264.86 L348.71,265.42 L347.26,265.99 L345.80,266.55 L344.35,267.11 L342.89,267.68 L341.44,268.24 L339.98,268.81 L338.52,269.37 L337.07,269.93 L335.61,270.50 L334.16,271.06 L332.70,271.63 L331.24,272.19 L329.79,272.75 L328.33,273.32 L326.88,273.88 L325.42,274.45 L323.96,275.01 L322.51,275.57 L321.05,276.14 L319.60,276.70 L318.14,277.27 L316.69,277.83 L315.23,278.39 L313.77,278.96 L312.32,279.52 L310.86,280.09 L309.41,280.65 L307.95,281.21 L306.49,281.78 L305.04,282.34 L303.58,282.91 L302.13,283.47 L300.67,284.03 L299.22,284.60 L297.76,285.16 L296.30,285.73 L294.85,286.29 L293.39,286.85 L291.94,287.42 L290.48,287.98 L289.02,288.55 L287.57,289.11 L286.11,289.67 L284.66,290.24 L283.20,290.80 L281.75,291.37 L280.29,291.93 L278.83,292.49 L277.38,293.06 L275.92,293.62 L274.47,294.19 L273.01,294.75 L271.55,295.31 L270.10,295.88 L268.64,296.44 L267.19,297.01 L265.73,297.57 L264.28,298.13 L262.82,298.70 L261.36,299.26 L259.91,299.83 L258.45,300.39 L257.00,300.96 L255.54,301.52 L254.08,302.08 L252.63,302.65 L251.17,303.21 L249.72,303.78 L248.26,304.34 L246.80,304.90 L245.35,305.47 L243.89,306.03 L242.44,306.60 L240.98,307.16 L239.53,307.72 L238.07,308.29 L236.61,308.85 L235.16,309.42 L233.70,309.98 L232.25,310.54 L230.79,311.11 L229.33,311.67 L227.88,312.24 L226.42,312.80 L224.97,313.36 L223.51,313.93 L222.06,314.49 L220.60,315.06 L219.14,315.62 L217.69,316.18 L216.23,316.75 L214.78,317.31 L213.32,317.88 L211.86,318.44 L210.41,319.00 L208.95,319.57 L207.50,320.13 L206.04,320.70 L204.59,321.26 L203.13,321.82 L201.67,322.39 L200.22,322.95 L198.76,323.52 L197.31,324.08 L195.85,324.64 L194.39,325.21 L192.94,325.77 L191.48,326.34 L190.03,326.90 L188.57,327.46 L187.11,328.03 L185.66,328.59 L184.20,329.16 L182.75,329.72 L181.29,330.28 L179.84,330.85 L178.38,331.41 L176.92,331.98 L175.47,332.54 L174.01,333.10 L172.56,333.67 L171.10,334.23 L169.64,334.80 L168.19,335.36 L166.73,335.92 L165.28,336.49 L163.82,337.05 L162.37,337.62 L160.91,338.18 L159.45,338.74 L158.00,339.31 L156.54,339.87 L155.09,340.44 L153.63,341.00 L152.17,341.56 L150.72,342.13 L149.26,342.69 L147.81,343.26 L146.35,343.82 L144.90,344.38 L143.44,344.95 L141.98,345.51 L140.53,346.08 L139.07,346.64 L137.62,347.20 L136.16,347.77 L134.70,348.33 L133.25,348.90 L131.79,349.46 L130.34,350.02 L128.88,350.59 L127.42,351.15 L125.97,351.72 L124.51,352.28 L123.06,352.84 L121.60,353.41 L120.15,353.97 L118.69,354.54 L117.23,355.10 L115.78,355.67 L115.05,355.95" fill="none" stroke="#000000" stroke-width="2.3" stroke-dasharray="4.45 4.473" stroke-dashoffset="0.77"/>
</g>
<rect x="108.10" y="3.40" width="668.50" height="467.80" fill="none" stroke="#000" stroke-width="1.5"/>
<path d="M115.05,471.20 v-3.10 M115.05,3.40 v3.10 M196.10,471.20 v-6.80 M196.10,3.40 v6.80 M277.15,471.20 v-3.10 M277.15,3.40 v3.10 M358.20,471.20 v-6.80 M358.20,3.40 v6.80 M439.25,471.20 v-3.10 M439.25,3.40 v3.10 M520.30,471.20 v-6.80 M520.30,3.40 v6.80 M601.35,471.20 v-3.10 M601.35,3.40 v3.10 M682.40,471.20 v-6.80 M682.40,3.40 v6.80 M763.45,471.20 v-3.10 M763.45,3.40 v3.10 M108.10,461.70 h3.10 M776.60,461.70 h-3.10 M108.10,430.30 h3.10 M776.60,430.30 h-3.10 M108.10,398.90 h6.80 M776.60,398.90 h-6.80 M108.10,367.50 h3.10 M776.60,367.50 h-3.10 M108.10,336.10 h3.10 M776.60,336.10 h-3.10 M108.10,304.70 h6.80 M776.60,304.70 h-6.80 M108.10,273.30 h3.10 M776.60,273.30 h-3.10 M108.10,241.90 h3.10 M776.60,241.90 h-3.10 M108.10,210.50 h6.80 M776.60,210.50 h-6.80 M108.10,179.10 h3.10 M776.60,179.10 h-3.10 M108.10,147.70 h3.10 M776.60,147.70 h-3.10 M108.10,116.30 h6.80 M776.60,116.30 h-6.80 M108.10,84.90 h3.10 M776.60,84.90 h-3.10 M108.10,53.50 h3.10 M776.60,53.50 h-3.10 M108.10,22.10 h3.10 M776.60,22.10 h-3.10" stroke="#000" stroke-width="1.4" fill="none"/>
<g fill="#000">
<text transform="translate(44.29,125.30) scale(0.9648,1)" font-size="28.4" style="font-family:'Liberation Serif',serif">10</text>
<rect x="72.80" y="109.50" width="9.70" height="1.40"/>
<text x="83.10" y="114.80" font-size="20.1" style="font-family:'Liberation Serif',serif">26</text>
<text transform="translate(44.29,219.50) scale(0.9648,1)" font-size="28.4" style="font-family:'Liberation Serif',serif">10</text>
<rect x="72.80" y="203.70" width="9.70" height="1.40"/>
<text x="83.10" y="209.00" font-size="20.1" style="font-family:'Liberation Serif',serif">29</text>
<text transform="translate(44.29,313.70) scale(0.9648,1)" font-size="28.4" style="font-family:'Liberation Serif',serif">10</text>
<rect x="72.80" y="297.90" width="9.70" height="1.40"/>
<text x="83.10" y="303.20" font-size="20.1" style="font-family:'Liberation Serif',serif">32</text>
<text transform="translate(44.29,407.90) scale(0.9648,1)" font-size="28.4" style="font-family:'Liberation Serif',serif">10</text>
<rect x="72.80" y="392.10" width="9.70" height="1.40"/>
<text x="83.10" y="397.40" font-size="20.1" style="font-family:'Liberation Serif',serif">35</text>
<text transform="translate(172.43,499.55) scale(0.9889,1)" font-size="28.4" style="font-family:'Liberation Serif',serif">10</text>
<text transform="translate(200.89,489.60) scale(0.9191,1)" font-size="20.1" style="font-family:'Liberation Serif',serif">13</text>
<text transform="translate(334.53,499.55) scale(0.9889,1)" font-size="28.4" style="font-family:'Liberation Serif',serif">10</text>
<text transform="translate(363.06,489.60) scale(0.8794,1)" font-size="20.1" style="font-family:'Liberation Serif',serif">15</text>
<text transform="translate(496.63,499.55) scale(0.9889,1)" font-size="28.4" style="font-family:'Liberation Serif',serif">10</text>
<text transform="translate(525.18,489.60) scale(0.8676,1)" font-size="20.1" style="font-family:'Liberation Serif',serif">17</text>
<text transform="translate(658.73,499.55) scale(0.9889,1)" font-size="28.4" style="font-family:'Liberation Serif',serif">10</text>
<text transform="translate(687.17,489.60) scale(0.9314,1)" font-size="20.1" style="font-family:'Liberation Serif',serif">19</text>
<text transform="translate(389.31,535.80) scale(1.0889,1)" font-size="28" style="font-family:'Liberation Serif',serif;font-style:italic">m</text>
<text transform="translate(412.46,540.45) scale(1.1714,1)" font-size="19.5" style="font-family:'Liberation Serif',serif;font-style:italic">χ</text>
<text transform="translate(423.74,534.95) scale(0.9385,1)" font-size="25.5" style="font-family:'Liberation Serif',serif">(</text>
<text transform="translate(430.61,535.80) scale(1.0621,1)" font-size="28" style="font-family:'Liberation Serif',serif">GeV</text>
<text transform="translate(486.69,534.95) scale(0.9509,1)" font-size="25.5" style="font-family:'Liberation Serif',serif">)</text>
<g transform="translate(27.3,290.7) rotate(-90)">
<text transform="translate(-0.93,0.00) scale(1.2427,1)" font-size="26" style="font-family:'Liberation Serif',serif;font-style:italic">σ</text>
<text transform="translate(18.43,3.86) scale(1.2190,1)" font-size="19.5" style="font-family:'Liberation Serif',serif;font-style:italic">χ</text>
<text transform="translate(29.71,3.70) scale(0.9794,1)" font-size="19.8" style="font-family:'Liberation Serif',serif">N</text>
<text transform="translate(45.53,-0.85) scale(0.9538,1)" font-size="25.5" style="font-family:'Liberation Serif',serif">(</text>
<text transform="translate(52.70,0.00) scale(0.9985,1)" font-size="28" style="font-family:'Liberation Serif',serif">cm</text>
<text transform="translate(87.65,-11.70) scale(1.0831,1)" font-size="20.1" style="font-family:'Liberation Serif',serif">2</text>
<text transform="translate(98.94,-0.85) scale(1.0113,1)" font-size="25.5" style="font-family:'Liberation Serif',serif">)</text>
</g>
<text transform="translate(415.18,423.00) scale(0.9917,1)" font-size="22.5" style="font-family:'Liberation Serif',serif;font-weight:bold">spin</text>
<rect x="457.30" y="416.20" width="12.30" height="2.20"/>
<text transform="translate(471.40,423.00) scale(1.0065,1)" font-size="22.5" style="font-family:'Liberation Serif',serif;font-weight:bold">independent,</text>
<text transform="translate(601.41,423.00) scale(0.9786,1)" font-size="22.5" style="font-family:'Liberation Serif',serif;font-weight:bold">isospin</text>
<rect x="667.70" y="416.20" width="12.30" height="2.20"/>
<text transform="translate(681.60,423.00) scale(1.0102,1)" font-size="22.5" style="font-family:'Liberation Serif',serif;font-weight:bold">violating,</text>
<text transform="translate(414.65,453.30) scale(0.9965,1)" font-size="22.5" style="font-family:'Liberation Serif',serif;font-weight:bold">argophobic:</text>
<text transform="translate(546.72,456.70) scale(1.0098,1)" font-size="15.8" style="font-family:'Liberation Serif',serif;font-weight:bold;font-style:italic">n</text>
<text transform="translate(575.43,457.00) scale(1.0930,1)" font-size="16.4" style="font-family:'Liberation Serif',serif;font-weight:bold;font-style:italic">p</text>
<rect x="590.80" y="444.10" width="12.60" height="2.20"/>
<rect x="590.80" y="449.60" width="12.60" height="2.20"/>
<rect x="612.50" y="446.80" width="13.30" height="2.20"/>
<text transform="translate(626.64,453.30) scale(0.9840,1)" font-size="22.5" style="font-family:'Liberation Serif',serif;font-weight:bold">0.82</text>
</g>
<g transform="translate(0.00,0)" fill="none" stroke="#000" stroke-linecap="round"><path d="M549.0,439.9 C548.6,438.4 546.6,438.2 545.7,440.6 L541.9,454.6 C541.1,457.4 538.9,457.9 537.8,456.3" stroke-width="2.3"/><path d="M541.6,444.0 H547.2" stroke-width="1.3" stroke-linecap="butt"/><circle cx="548.8" cy="440.1" r="0.7" stroke-width="1.2"/><circle cx="538.0" cy="456.1" r="0.7" stroke-width="1.2"/></g>
<g transform="translate(28.10,0)" fill="none" stroke="#000" stroke-linecap="round"><path d="M549.0,439.9 C548.6,438.4 546.6,438.2 545.7,440.6 L541.9,454.6 C541.1,457.4 538.9,457.9 537.8,456.3" stroke-width="2.3"/><path d="M541.6,444.0 H547.2" stroke-width="1.3" stroke-linecap="butt"/><circle cx="548.8" cy="440.1" r="0.7" stroke-width="1.2"/><circle cx="538.0" cy="456.1" r="0.7" stroke-width="1.2"/></g>
<path d="M557.7,456.9 L563.0,438.2" stroke="#000" stroke-width="2.0" fill="none"/>
<text stroke="#808080" stroke-width="0.55" transform="translate(757.66,155.75) scale(0.9667,1)" font-size="22" style="font-family:'Liberation Sans',sans-serif" fill="#808080">x</text>
<path d="M758.1,35.9 L763.2,25.9 L768.3,35.9" fill="none" stroke="#800080" stroke-width="1.3" stroke-linejoin="miter"/>
<path d="M757.2,36.0 H769.2" fill="none" stroke="#b060b0" stroke-width="1.1"/>
</svg>
</body></html>
